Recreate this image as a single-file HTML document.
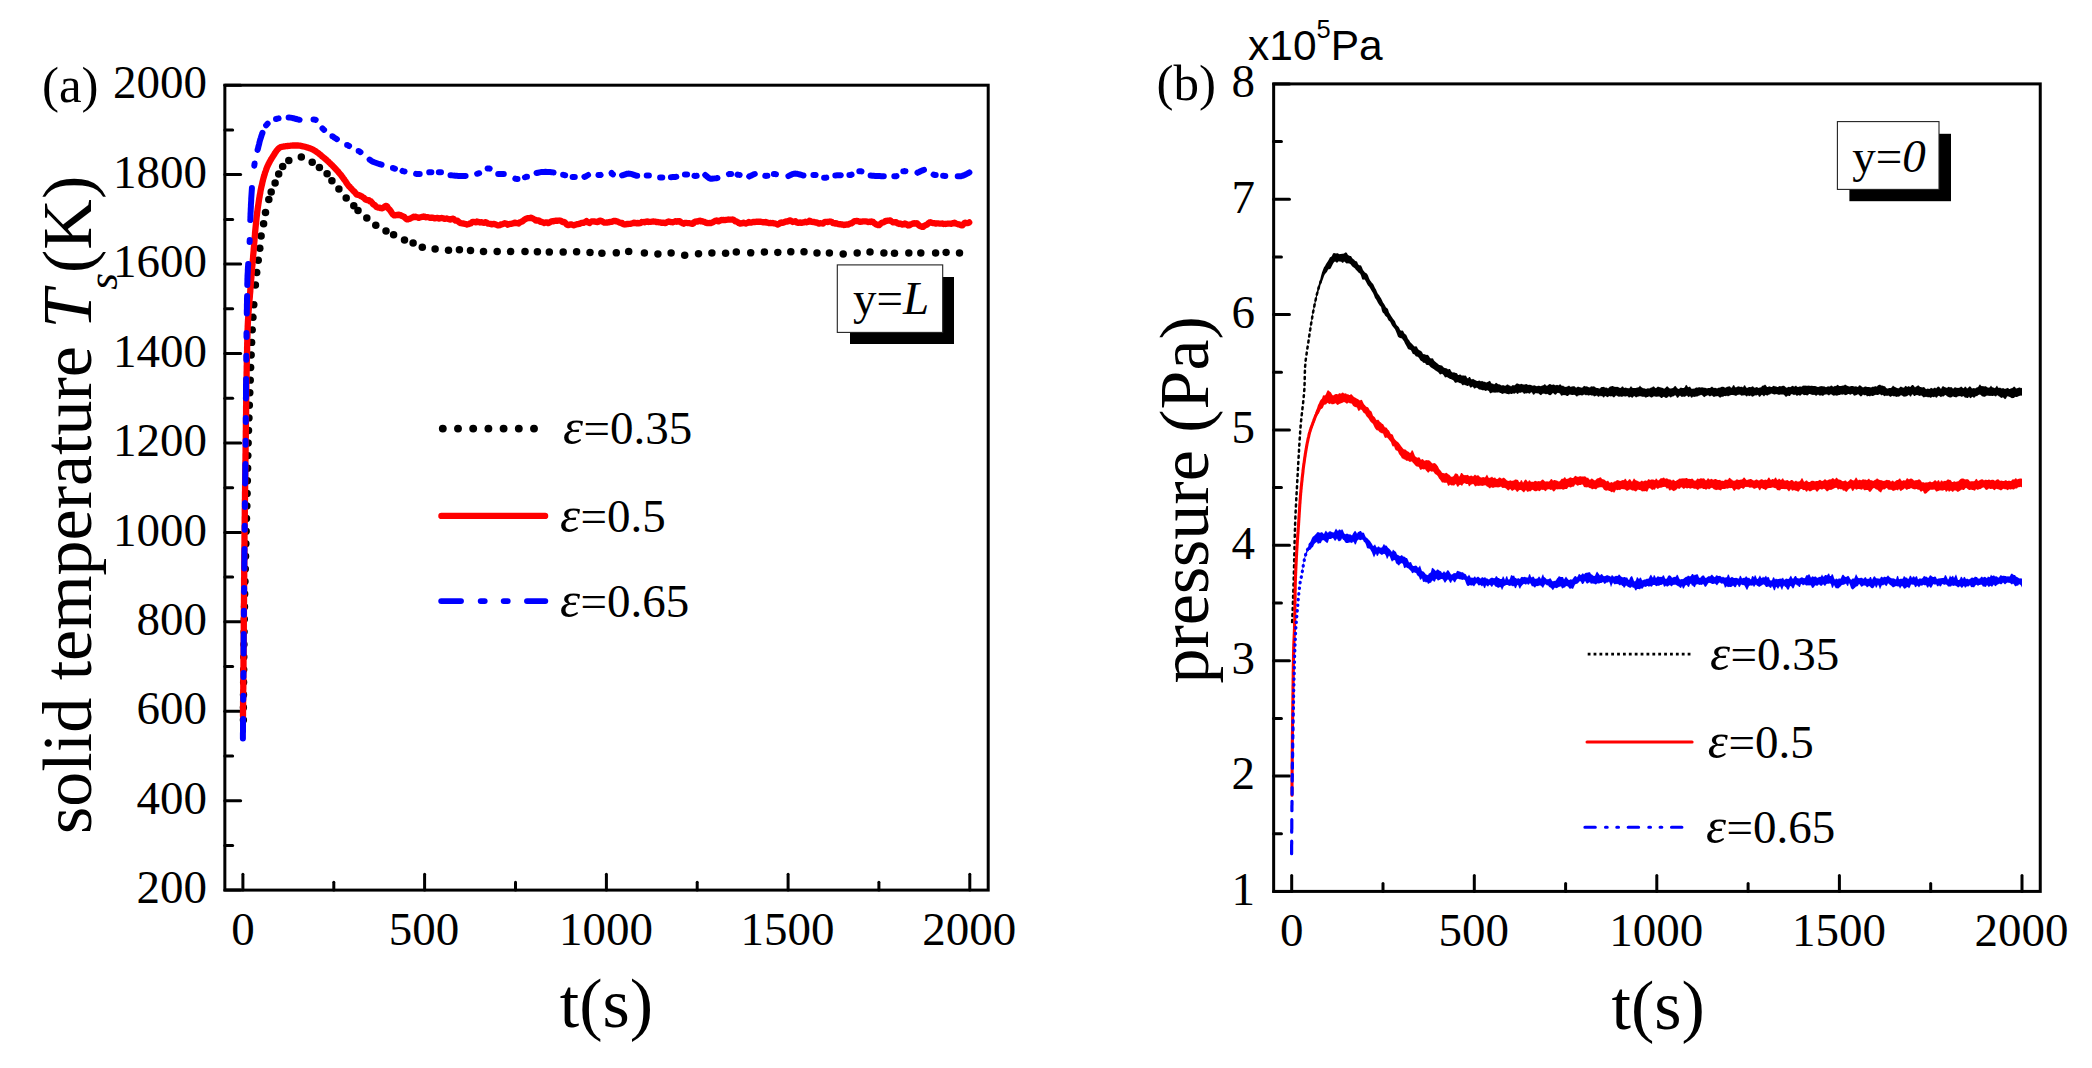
<!DOCTYPE html>
<html><head><meta charset="utf-8"><title>Figure</title>
<style>
html,body{margin:0;padding:0;background:#fff;}
body{width:2092px;height:1068px;overflow:hidden;}
svg{display:block;}
text{font-family:"Liberation Serif","Times New Roman",serif;fill:#000;}
.tk{font-size:47px;}
.big{font-size:70px;}
.it{font-style:italic;}
.sans{font-family:"Liberation Sans",Arial,sans-serif;}
.ax line{stroke:#000;stroke-width:3;stroke-linecap:round;}
.ax rect{fill:none;stroke:#000;stroke-width:3;}
.crv{fill:none;stroke-linejoin:round;}
</style></head>
<body>
<svg width="2092" height="1068" viewBox="0 0 2092 1068">
<rect width="2092" height="1068" fill="#fff"/>

<!-- ===== Panel (a) ===== -->
<g class="ax">
<rect x="224.85" y="85.2" width="763.35" height="804.9"/>
<line x1="224.85" y1="890.1" x2="240.65" y2="890.1"/>
<line x1="224.85" y1="845.4" x2="232.65" y2="845.4"/>
<line x1="224.85" y1="800.7" x2="240.65" y2="800.7"/>
<line x1="224.85" y1="756.0" x2="232.65" y2="756.0"/>
<line x1="224.85" y1="711.2" x2="240.65" y2="711.2"/>
<line x1="224.85" y1="666.5" x2="232.65" y2="666.5"/>
<line x1="224.85" y1="621.8" x2="240.65" y2="621.8"/>
<line x1="224.85" y1="577.1" x2="232.65" y2="577.1"/>
<line x1="224.85" y1="532.4" x2="240.65" y2="532.4"/>
<line x1="224.85" y1="487.7" x2="232.65" y2="487.7"/>
<line x1="224.85" y1="442.9" x2="240.65" y2="442.9"/>
<line x1="224.85" y1="398.2" x2="232.65" y2="398.2"/>
<line x1="224.85" y1="353.5" x2="240.65" y2="353.5"/>
<line x1="224.85" y1="308.8" x2="232.65" y2="308.8"/>
<line x1="224.85" y1="264.1" x2="240.65" y2="264.1"/>
<line x1="224.85" y1="219.4" x2="232.65" y2="219.4"/>
<line x1="224.85" y1="174.6" x2="240.65" y2="174.6"/>
<line x1="224.85" y1="129.9" x2="232.65" y2="129.9"/>
<line x1="224.85" y1="85.2" x2="240.65" y2="85.2"/>
<line x1="242.9" y1="890.1" x2="242.9" y2="874.3000000000001"/>
<line x1="333.8" y1="890.1" x2="333.8" y2="882.3000000000001"/>
<line x1="424.6" y1="890.1" x2="424.6" y2="874.3000000000001"/>
<line x1="515.5" y1="890.1" x2="515.5" y2="882.3000000000001"/>
<line x1="606.4" y1="890.1" x2="606.4" y2="874.3000000000001"/>
<line x1="697.2" y1="890.1" x2="697.2" y2="882.3000000000001"/>
<line x1="788.1" y1="890.1" x2="788.1" y2="874.3000000000001"/>
<line x1="878.9" y1="890.1" x2="878.9" y2="882.3000000000001"/>
<line x1="969.8" y1="890.1" x2="969.8" y2="874.3000000000001"/>
</g>
<g class="tk">
<text x="207" y="903.2" text-anchor="end">200</text>
<text x="207" y="813.8" text-anchor="end">400</text>
<text x="207" y="724.3" text-anchor="end">600</text>
<text x="207" y="634.9" text-anchor="end">800</text>
<text x="207" y="545.5" text-anchor="end">1000</text>
<text x="207" y="456.0" text-anchor="end">1200</text>
<text x="207" y="366.6" text-anchor="end">1400</text>
<text x="207" y="277.2" text-anchor="end">1600</text>
<text x="207" y="187.7" text-anchor="end">1800</text>
<text x="207" y="98.3" text-anchor="end">2000</text>
<text x="242.9" y="944.9" text-anchor="middle">0</text>
<text x="424.1" y="944.9" text-anchor="middle">500</text>
<text x="605.9" y="944.9" text-anchor="middle">1000</text>
<text x="787.6" y="944.9" text-anchor="middle">1500</text>
<text x="969.3" y="944.9" text-anchor="middle">2000</text>
<text x="42" y="102.3" font-size="51">(a)</text>
</g>
<text class="big" x="606.5" y="1026.8" text-anchor="middle">t(s)</text>
<text class="big" transform="translate(90.5,834) rotate(-90)">solid temperature <tspan class="it">T</tspan><tspan class="it" font-size="43" dy="26">s</tspan><tspan dy="-26" dx="0">(K)</tspan></text>

<polyline class="crv" points="243.4,720.0 243.4,719.0 243.4,718.0 243.4,717.0 243.4,716.0 243.4,715.0 243.4,714.0 243.4,713.0 243.4,712.0 243.4,711.0 243.4,710.0 243.4,709.0 243.4,708.0 243.4,707.0 243.5,706.0 243.5,705.0 243.5,704.0 243.5,703.0 243.5,702.0 243.5,701.0 243.5,700.0 243.5,699.0 243.5,698.0 243.5,697.0 243.5,696.0 243.5,695.0 243.5,694.0 243.5,693.0 243.5,692.0 243.5,691.0 243.5,690.0 243.6,689.0 243.6,688.0 243.6,687.0 243.6,686.0 243.6,685.0 243.6,684.0 243.6,683.0 243.6,682.0 243.6,681.0 243.6,680.0 243.6,679.0 243.6,678.0 243.6,677.0 243.7,676.0 243.7,675.0 243.7,674.0 243.7,673.0 243.7,672.0 243.7,671.0 243.7,670.0 243.7,669.0 243.7,668.0 243.7,667.0 243.7,666.0 243.8,665.0 243.8,664.0 243.8,663.0 243.8,662.0 243.8,661.0 243.8,660.0 243.8,659.0 243.8,658.0 243.8,657.0 243.8,656.0 243.8,655.0 243.9,654.0 243.9,653.0 243.9,652.0 243.9,651.0 243.9,650.0 243.9,649.0 243.9,648.0 243.9,647.0 243.9,646.0 243.9,645.0 244.0,644.0 244.0,643.0 244.0,642.0 244.0,641.0 244.0,640.0 244.0,639.0 244.0,638.0 244.0,637.0 244.0,636.0 244.1,635.0 244.1,634.0 244.1,633.0 244.1,632.0 244.1,631.0 244.1,630.0 244.1,629.0 244.1,628.0 244.2,627.0 244.2,626.0 244.2,625.0 244.2,624.0 244.2,623.0 244.2,622.0 244.2,621.0 244.3,620.0 244.3,619.0 244.3,618.0 244.3,617.0 244.3,616.0 244.3,615.0 244.4,614.0 244.4,613.0 244.4,612.0 244.4,611.0 244.4,610.0 244.4,609.0 244.5,608.0 244.5,607.0 244.5,606.0 244.5,605.0 244.5,604.0 244.5,603.0 244.6,602.0 244.6,601.0 244.6,600.0 244.6,599.0 244.6,598.0 244.7,597.0 244.7,596.0 244.7,595.0 244.7,594.0 244.7,593.0 244.8,592.0 244.8,591.0 244.8,590.0 244.8,589.0 244.8,588.0 244.9,587.0 244.9,586.0 244.9,585.0 244.9,584.0 244.9,583.0 245.0,582.0 245.0,581.0 245.0,580.0 245.0,579.0 245.1,578.0 245.1,577.0 245.1,576.0 245.1,575.0 245.2,574.0 245.2,573.0 245.2,572.0 245.2,571.0 245.3,570.0 245.3,569.0 245.3,568.0 245.3,567.0 245.4,566.0 245.4,565.0 245.4,564.0 245.4,563.0 245.5,562.0 245.5,561.0 245.5,560.0 245.5,559.0 245.6,558.0 245.6,557.0 245.6,556.0 245.6,555.0 245.7,554.0 245.7,553.0 245.7,552.0 245.7,551.0 245.8,550.0 245.8,549.0 245.8,548.0 245.8,547.0 245.9,546.0 245.9,545.0 245.9,544.0 245.9,543.0 246.0,542.0 246.0,541.0 246.0,540.0 246.0,539.0 246.0,538.0 246.1,537.0 246.1,536.0 246.1,535.0 246.1,534.0 246.2,533.0 246.2,532.0 246.2,531.0 246.2,530.0 246.3,529.0 246.3,528.0 246.3,527.0 246.3,526.0 246.4,525.0 246.4,524.0 246.4,523.0 246.5,522.0 246.5,521.0 246.5,520.0 246.5,519.0 246.6,518.0 246.6,517.0 246.6,516.0 246.6,515.0 246.7,514.0 246.7,513.0 246.7,512.0 246.7,511.0 246.8,510.0 246.8,509.0 246.8,508.0 246.8,507.0 246.9,506.0 246.9,505.0 246.9,504.0 246.9,503.0 247.0,502.0 247.0,501.0 247.0,500.0 247.0,499.0 247.0,498.0 247.1,497.0 247.1,496.0 247.1,495.0 247.1,494.0 247.2,493.0 247.2,492.0 247.2,491.0 247.2,490.0 247.2,489.0 247.3,488.0 247.3,487.0 247.3,486.0 247.3,485.0 247.3,484.0 247.4,483.0 247.4,482.0 247.4,481.0 247.4,480.0 247.4,479.0 247.5,478.0 247.5,477.0 247.5,476.0 247.5,475.0 247.5,474.0 247.6,473.0 247.6,472.0 247.6,471.0 247.6,470.0 247.6,469.0 247.7,468.0 247.7,467.0 247.7,466.0 247.7,465.0 247.7,464.0 247.8,463.0 247.8,462.0 247.8,461.0 247.8,460.0 247.9,459.0 247.9,458.0 247.9,457.0 247.9,456.0 247.9,455.0 248.0,454.0 248.0,453.0 248.0,452.0 248.0,451.0 248.1,450.0 248.1,449.0 248.1,448.0 248.1,447.0 248.1,446.0 248.2,445.0 248.2,444.0 248.2,443.0 248.2,442.0 248.3,441.0 248.3,440.0 248.3,439.1 248.4,438.1 248.4,437.1 248.4,436.1 248.4,435.1 248.5,434.1 248.5,433.1 248.5,432.1 248.5,431.1 248.6,430.1 248.6,429.1 248.6,428.1 248.7,427.1 248.7,426.1 248.7,425.1 248.8,424.1 248.8,423.1 248.8,422.1 248.9,421.1 248.9,420.1 248.9,419.1 249.0,418.1 249.0,417.1 249.0,416.1 249.1,415.1 249.1,414.1 249.1,413.1 249.2,412.1 249.2,411.1 249.2,410.1 249.3,409.1 249.3,408.1 249.3,407.1 249.4,406.1 249.4,405.1 249.4,404.1 249.5,403.1 249.5,402.1 249.5,401.1 249.6,400.1 249.6,399.1 249.6,398.1 249.7,397.1 249.7,396.1 249.7,395.1 249.8,394.1 249.8,393.1 249.9,392.1 249.9,391.1 249.9,390.1 250.0,389.1 250.0,388.1 250.0,387.1 250.1,386.1 250.1,385.1 250.1,384.1 250.2,383.1 250.2,382.1 250.2,381.1 250.3,380.1 250.3,379.1 250.4,378.1 250.4,377.1 250.4,376.1 250.5,375.1 250.5,374.1 250.5,373.1 250.6,372.1 250.6,371.1 250.6,370.1 250.7,369.1 250.7,368.1 250.7,367.1 250.8,366.1 250.8,365.1 250.9,364.1 250.9,363.1 250.9,362.1 251.0,361.1 251.0,360.1 251.0,359.1 251.1,358.1 251.1,357.1 251.2,356.1 251.2,355.1 251.2,354.1 251.3,353.1 251.3,352.1 251.3,351.1 251.4,350.1 251.4,349.1 251.5,348.1 251.5,347.1 251.6,346.1 251.6,345.1 251.6,344.1 251.7,343.1 251.7,342.1 251.8,341.1 251.8,340.1 251.9,339.1 251.9,338.1 252.0,337.1 252.0,336.1 252.0,335.1 252.1,334.1 252.1,333.1 252.2,332.1 252.2,331.1 252.3,330.1 252.3,329.1 252.4,328.1 252.4,327.1 252.5,326.1 252.6,325.1 252.6,324.1 252.7,323.1 252.7,322.1 252.8,321.1 252.8,320.1 252.9,319.1 253.0,318.1 253.0,317.1 253.1,316.1 253.1,315.1 253.2,314.1 253.3,313.1 253.3,312.2 253.4,311.2 253.5,310.2 253.5,309.2 253.6,308.2 253.7,307.2 253.7,306.2 253.8,305.2 253.9,304.2 253.9,303.2 254.0,302.2 254.1,301.2 254.2,300.2 254.2,299.2 254.3,298.2 254.4,297.2 254.5,296.2 254.5,295.2 254.6,294.2 254.7,293.2 254.8,292.2" stroke="#000" stroke-width="7.4" stroke-linecap="round" stroke-dasharray="0 12.6"/>
<g fill="#000">
<circle cx="255.4" cy="285.0" r="3.75"/>
<circle cx="256.7" cy="272.6" r="3.75"/>
<circle cx="258.2" cy="260.2" r="3.75"/>
<circle cx="259.8" cy="248.3" r="3.75"/>
<circle cx="261.1" cy="235.9" r="3.75"/>
<circle cx="263.6" cy="223.8" r="3.75"/>
<circle cx="265.5" cy="212.4" r="3.75"/>
<circle cx="268.8" cy="199.6" r="3.75"/>
<circle cx="271.2" cy="191.9" r="3.75"/>
<circle cx="275.1" cy="183.1" r="3.75"/>
<circle cx="278.7" cy="174.1" r="3.75"/>
<circle cx="282.7" cy="166.5" r="3.75"/>
<circle cx="288.8" cy="160.4" r="3.75"/>
<circle cx="301.3" cy="156.9" r="3.75"/>
<circle cx="312.2" cy="162.3" r="3.75"/>
<circle cx="319.4" cy="167.4" r="3.75"/>
<circle cx="327.1" cy="173.7" r="3.75"/>
<circle cx="331.9" cy="180.8" r="3.75"/>
<circle cx="338.9" cy="189.0" r="3.75"/>
<circle cx="346.2" cy="198.0" r="3.75"/>
<circle cx="353.8" cy="205.7" r="3.75"/>
<circle cx="358.0" cy="210.5" r="3.75"/>
<circle cx="366.8" cy="218.1" r="3.75"/>
<circle cx="375.8" cy="225.2" r="3.75"/>
<circle cx="386.0" cy="230.9" r="3.75"/>
<circle cx="393.6" cy="234.7" r="3.75"/>
<circle cx="404.5" cy="240.1" r="3.75"/>
<circle cx="413.1" cy="243.0" r="3.75"/>
<circle cx="422.3" cy="247.2" r="3.75"/>
<circle cx="435.1" cy="249.1" r="3.75"/>
<circle cx="448.5" cy="250.2" r="3.75"/>
<circle cx="459.4" cy="249.7" r="3.75"/>
<circle cx="470.5" cy="250.6" r="3.75"/>
<circle cx="483.5" cy="251.6" r="3.75"/>
<circle cx="497.2" cy="251.6" r="3.75"/>
<circle cx="510.6" cy="251.6" r="3.75"/>
<circle cx="525.0" cy="251.6" r="3.75"/>
<circle cx="537.4" cy="251.8" r="3.75"/>
<circle cx="549.3" cy="252.1" r="3.75"/>
<circle cx="563.2" cy="252.1" r="3.75"/>
<circle cx="576.6" cy="251.8" r="3.75"/>
<circle cx="590.0" cy="252.5" r="3.75"/>
<circle cx="601.9" cy="253.3" r="3.75"/>
<circle cx="616.3" cy="252.8" r="3.75"/>
<circle cx="628.7" cy="251.4" r="3.75"/>
<circle cx="644.4" cy="252.9" r="3.75"/>
<circle cx="657.9" cy="253.9" r="3.75"/>
<circle cx="671.1" cy="252.9" r="3.75"/>
<circle cx="684.7" cy="255.2" r="3.75"/>
<circle cx="698.5" cy="253.7" r="3.75"/>
<circle cx="711.9" cy="252.9" r="3.75"/>
<circle cx="725.6" cy="253.3" r="3.75"/>
<circle cx="736.3" cy="252.0" r="3.75"/>
<circle cx="750.7" cy="252.8" r="3.75"/>
<circle cx="764.4" cy="252.0" r="3.75"/>
<circle cx="777.8" cy="252.4" r="3.75"/>
<circle cx="790.8" cy="251.8" r="3.75"/>
<circle cx="804.0" cy="251.8" r="3.75"/>
<circle cx="817.0" cy="252.9" r="3.75"/>
<circle cx="829.4" cy="252.9" r="3.75"/>
<circle cx="843.2" cy="253.9" r="3.75"/>
<circle cx="857.2" cy="252.9" r="3.75"/>
<circle cx="870.0" cy="252.0" r="3.75"/>
<circle cx="883.9" cy="252.9" r="3.75"/>
<circle cx="894.5" cy="253.3" r="3.75"/>
<circle cx="908.8" cy="252.9" r="3.75"/>
<circle cx="920.8" cy="252.9" r="3.75"/>
<circle cx="935.6" cy="252.9" r="3.75"/>
<circle cx="946.1" cy="252.4" r="3.75"/>
<circle cx="959.5" cy="252.9" r="3.75"/>
</g>
<polyline class="crv" points="243.0,716.0 243.0,715.0 243.0,714.0 243.0,713.0 243.0,712.0 243.0,711.0 243.1,710.0 243.1,709.0 243.1,708.0 243.1,707.0 243.1,706.0 243.1,705.0 243.1,704.0 243.1,703.0 243.1,702.0 243.1,701.0 243.2,700.0 243.2,699.0 243.2,698.0 243.2,697.0 243.2,696.0 243.2,695.0 243.2,694.0 243.2,693.0 243.2,692.0 243.2,691.0 243.2,690.0 243.3,689.0 243.3,688.0 243.3,687.0 243.3,686.0 243.3,685.0 243.3,684.0 243.3,683.0 243.3,682.0 243.3,681.0 243.3,680.0 243.3,679.0 243.4,678.0 243.4,677.0 243.4,676.0 243.4,675.0 243.4,674.0 243.4,673.0 243.4,672.0 243.4,671.0 243.4,670.0 243.4,669.0 243.4,668.0 243.5,667.0 243.5,666.0 243.5,665.0 243.5,664.0 243.5,663.0 243.5,662.0 243.5,661.0 243.5,660.0 243.5,659.0 243.5,658.0 243.5,657.0 243.5,656.0 243.6,655.0 243.6,654.0 243.6,653.0 243.6,652.0 243.6,651.0 243.6,650.0 243.6,649.0 243.6,648.0 243.6,647.0 243.6,646.0 243.6,645.0 243.6,644.0 243.7,643.0 243.7,642.0 243.7,641.0 243.7,640.0 243.7,639.0 243.7,638.0 243.7,637.0 243.7,636.0 243.7,635.0 243.7,634.0 243.7,633.0 243.7,632.0 243.8,631.0 243.8,630.0 243.8,629.0 243.8,628.0 243.8,627.0 243.8,626.0 243.8,625.0 243.8,624.0 243.8,623.0 243.8,622.0 243.8,621.0 243.8,620.0 243.8,619.0 243.8,618.0 243.9,617.0 243.9,616.0 243.9,615.0 243.9,614.0 243.9,613.0 243.9,612.0 243.9,611.0 243.9,610.0 243.9,609.0 243.9,608.0 243.9,607.0 243.9,606.0 243.9,605.0 243.9,604.0 244.0,603.0 244.0,602.0 244.0,601.0 244.0,600.0 244.0,599.0 244.0,598.0 244.0,597.0 244.0,596.0 244.0,595.0 244.0,594.0 244.0,593.0 244.0,592.0 244.0,591.0 244.1,590.0 244.1,589.0 244.1,588.0 244.1,587.0 244.1,586.0 244.1,585.0 244.1,584.0 244.1,583.0 244.1,582.0 244.1,581.0 244.1,580.0 244.1,579.0 244.1,578.0 244.2,577.0 244.2,576.0 244.2,575.0 244.2,574.0 244.2,573.0 244.2,572.0 244.2,571.0 244.2,570.0 244.2,569.0 244.2,568.0 244.2,567.0 244.2,566.0 244.3,565.0 244.3,564.0 244.3,563.0 244.3,562.0 244.3,561.0 244.3,560.0 244.3,559.0 244.3,558.0 244.3,557.0 244.3,556.0 244.3,555.0 244.4,554.0 244.4,553.0 244.4,552.0 244.4,551.0 244.4,550.0 244.4,549.0 244.4,548.0 244.4,547.0 244.4,546.0 244.4,545.0 244.5,544.0 244.5,543.0 244.5,542.0 244.5,541.0 244.5,540.0 244.5,539.0 244.5,538.0 244.5,537.0 244.5,536.0 244.5,535.0 244.6,534.0 244.6,533.0 244.6,532.0 244.6,531.0 244.6,530.0 244.6,529.0 244.6,528.0 244.6,527.0 244.6,526.0 244.7,525.0 244.7,524.0 244.7,523.0 244.7,522.0 244.7,521.0 244.7,520.0 244.7,519.0 244.7,518.0 244.7,517.0 244.8,516.0 244.8,515.0 244.8,514.0 244.8,513.0 244.8,512.0 244.8,511.0 244.8,510.0 244.8,509.0 244.9,508.0 244.9,507.0 244.9,506.0 244.9,505.0 244.9,504.0 244.9,503.0 244.9,502.0 244.9,501.0 244.9,500.0 245.0,499.0 245.0,498.0 245.0,497.0 245.0,496.0 245.0,495.0 245.0,494.0 245.0,493.0 245.0,492.0 245.1,491.0 245.1,490.0 245.1,489.0 245.1,488.0 245.1,487.0 245.1,486.0 245.1,485.0 245.1,484.0 245.2,483.0 245.2,482.0 245.2,481.0 245.2,480.0 245.2,479.0 245.2,478.0 245.2,477.0 245.3,476.0 245.3,475.0 245.3,474.0 245.3,473.0 245.3,472.0 245.3,471.0 245.3,470.0 245.3,469.0 245.4,468.0 245.4,467.0 245.4,466.0 245.4,465.0 245.4,464.0 245.4,463.0 245.4,462.0 245.4,461.0 245.5,460.0 245.5,459.0 245.5,458.0 245.5,457.0 245.5,456.0 245.5,455.0 245.5,454.0 245.6,453.0 245.6,452.0 245.6,451.0 245.6,450.0 245.6,449.0 245.6,448.0 245.6,447.0 245.7,446.0 245.7,445.0 245.7,444.0 245.7,443.0 245.7,442.0 245.7,441.0 245.7,440.0 245.7,439.0 245.8,438.0 245.8,437.0 245.8,436.0 245.8,435.0 245.8,434.0 245.8,433.0 245.8,432.0 245.8,431.0 245.9,430.0 245.9,429.0 245.9,428.0 245.9,427.0 245.9,426.0 245.9,425.0 245.9,424.0 245.9,423.0 246.0,422.0 246.0,421.0 246.0,420.0 246.0,419.0 246.0,418.0 246.0,417.0 246.0,416.0 246.0,415.0 246.1,414.0 246.1,413.0 246.1,412.0 246.1,411.0 246.1,410.0 246.1,409.0 246.1,408.0 246.1,407.0 246.1,406.0 246.2,405.0 246.2,404.0 246.2,403.0 246.2,402.0 246.2,401.0 246.2,400.0 246.2,399.0 246.3,398.0 246.3,397.0 246.3,396.0 246.3,395.0 246.3,394.0 246.3,393.0 246.3,392.0 246.3,391.0 246.4,390.0 246.4,389.0 246.4,388.0 246.4,387.0 246.4,386.0 246.4,385.0 246.4,384.0 246.5,383.0 246.5,382.0 246.5,381.0 246.5,380.0 246.5,379.0 246.5,378.0 246.6,377.0 246.6,376.0 246.6,375.0 246.6,374.0 246.6,373.0 246.6,372.0 246.7,371.0 246.7,370.0 246.7,369.0 246.7,368.0 246.7,367.0 246.7,366.0 246.8,365.0 246.8,364.0 246.8,363.0 246.8,362.0 246.8,361.0 246.9,360.0 246.9,359.0 246.9,358.0 246.9,357.0 246.9,356.0 247.0,355.0 247.0,354.0 247.0,353.0 247.0,352.0 247.1,351.0 247.1,350.0 247.1,349.0 247.1,348.0 247.1,347.0 247.2,346.0 247.2,345.0 247.2,344.0 247.2,343.0 247.3,342.0 247.3,341.0 247.3,340.0 247.3,339.0 247.4,338.0 247.4,337.0 247.4,336.0 247.5,335.0 247.5,334.0 247.5,333.0 247.5,332.0 247.6,331.0 247.6,330.0 247.6,329.0 247.7,328.0 247.7,327.0 247.7,326.0 247.8,325.0 247.8,324.0 247.9,323.0 247.9,322.0 248.0,321.0 248.0,320.0 248.1,319.0 248.2,318.1 248.2,317.1 248.3,316.1 248.4,315.1 248.4,314.1 248.5,313.1 248.6,312.1 248.6,311.1 248.7,310.1 248.8,309.1 248.9,308.1 249.0,307.1 249.0,306.1 249.1,305.1 249.2,304.1 249.3,303.1 249.4,302.1 249.4,301.1 249.5,300.1 249.6,299.1 249.7,298.1 249.8,297.1 249.9,296.1 249.9,295.1 250.0,294.1 250.1,293.1 250.2,292.1 250.3,291.1 250.3,290.1 250.4,289.1 250.5,288.1 250.6,287.1 250.7,286.1 250.7,285.1 250.8,284.1 250.9,283.1 251.0,282.1 251.0,281.2 251.1,280.2 251.2,279.2 251.3,278.2 251.4,277.2 251.4,276.2 251.5,275.2 251.6,274.2 251.7,273.2 251.8,272.2 251.9,271.2 251.9,270.2 252.0,269.2 252.1,268.2 252.2,267.2 252.3,266.2 252.4,265.2 252.5,264.2 252.5,263.2 252.6,262.2 252.7,261.2 252.8,260.2 252.9,259.2 253.0,258.2 253.1,257.2 253.1,256.2 253.2,255.2 253.3,254.2 253.4,253.3 253.5,252.3 253.6,251.3 253.7,250.3 253.7,249.3 253.8,248.3 253.9,247.3 254.0,246.3 254.1,245.3 254.1,244.3 254.2,243.3 254.3,242.3 254.4,241.3 254.5,240.3 254.5,239.3 254.6,238.3 254.7,237.3 254.8,236.3 254.9,235.3 255.0,234.3 255.0,233.3 255.1,232.3 255.2,231.3 255.3,230.3 255.4,229.3 255.5,228.3 255.6,227.3 255.7,226.3 255.8,225.3 255.9,224.4 256.0,223.4 256.1,222.4 256.2,221.4 256.3,220.4 256.4,219.4 256.5,218.4 256.6,217.4 256.7,216.4 256.9,215.4 257.0,214.4 257.1,213.4 257.2,212.4 257.3,211.4 257.5,210.4 257.6,209.4 257.7,208.5 257.9,207.5 258.0,206.5 258.2,205.5 258.3,204.5 258.5,203.5 258.6,202.5 258.8,201.5 258.9,200.5 259.1,199.5 259.2,198.6 259.4,197.6 259.6,196.6 259.7,195.6 259.9,194.6 260.1,193.6 260.3,192.7 260.4,191.7 260.6,190.7 260.8,189.7 261.0,188.7 261.2,187.7 261.4,186.8 261.6,185.8 261.9,184.8 262.1,183.8 262.3,182.8 262.5,181.8 262.8,180.9 263.0,179.9 263.3,178.9 263.5,178.0 263.8,177.0 264.1,176.0 264.4,175.1 264.7,174.1 264.9,173.2 265.2,172.2 265.6,171.3 265.9,170.4 266.2,169.4 266.6,168.5 266.9,167.6 267.3,166.6 267.7,165.7 268.2,164.8 268.6,163.9 269.1,163.0 269.5,162.1 270.0,161.2 270.5,160.3 271.0,159.5 271.5,158.6 272.0,157.8 272.6,156.9 273.1,156.1 273.7,155.2 274.3,154.3 274.8,153.3 275.5,152.4 276.1,151.4 276.7,150.5 277.4,149.7 278.1,149.0 278.8,148.3 279.5,147.7 280.3,147.3 281.1,147.0 281.9,146.8 282.7,146.7 283.6,146.5 284.6,146.4 285.5,146.2 286.5,146.1 287.6,146.0 288.6,145.9 289.7,145.8 290.7,145.7 291.8,145.6 292.8,145.5 293.9,145.5 294.9,145.5 295.9,145.5 296.9,145.5 297.9,145.5 298.9,145.6 299.9,145.7 300.9,145.9 301.9,146.1 302.9,146.3 303.9,146.5 304.9,146.8 305.9,147.1 306.9,147.4 307.8,147.6 308.8,147.9 309.7,148.3 310.6,148.6 311.4,148.9 312.3,149.3 313.2,149.8 314.1,150.3 314.9,150.8 315.8,151.3 316.6,151.9 317.4,152.5 318.2,153.1 319.1,153.8 319.9,154.4 320.7,155.1 321.5,155.7 322.2,156.4 323.0,157.0 323.8,157.7 324.6,158.3 325.3,159.0 326.1,159.6 326.8,160.3 327.6,160.9 328.3,161.6 329.0,162.3 329.8,163.0 330.5,163.7 331.2,164.4 331.9,165.1 332.6,165.8 333.3,166.6 334.0,167.3 334.7,168.0 335.4,168.6 336.0,169.4 336.7,170.1 337.4,170.9 338.1,171.6 338.7,172.5 339.4,173.2 340.0,174.1 340.7,174.7 341.3,175.5 341.9,176.3 342.5,177.2 343.1,178.0 343.7,179.0 344.3,179.5 344.9,180.5 345.5,181.2 346.1,182.4 346.7,183.1 347.3,184.1 347.9,184.9 348.5,185.7 349.1,186.4 349.8,186.9 350.4,187.8 351.0,188.3 351.7,189.0 352.3,189.7 353.0,190.5 353.7,191.2 354.4,191.6 355.1,192.6 355.8,193.4 356.6,194.6 357.4,194.7 358.2,194.9 359.1,195.1 359.9,195.4 360.8,196.2 361.7,196.4 362.6,197.2 363.5,197.6 364.4,198.3 365.3,199.3 366.2,199.9 367.1,200.0 368.0,200.3 368.9,200.2 369.7,201.2 370.6,201.1 371.4,201.9 372.2,203.0 373.0,204.0 373.8,204.8 374.6,204.9 375.4,205.7 376.3,206.9 377.1,207.3 377.9,207.5 378.8,207.6 379.6,207.7 380.5,208.1 381.5,208.1 382.4,208.3 383.4,207.8 384.4,206.8 385.4,206.1 386.2,205.9 387.0,206.3 387.7,207.4 388.4,208.5 389.1,209.2 389.7,209.6 390.3,210.6 390.9,211.3 391.5,212.5 392.1,213.2 392.8,214.3 393.4,214.8 394.2,215.4 394.9,215.4 395.8,215.4 396.8,214.8 397.8,215.1 398.9,214.7 399.8,215.1 400.8,215.2 401.7,215.9 402.6,216.1 403.4,216.6 404.3,217.0 405.2,218.1 406.1,218.8 407.0,219.4 407.9,219.3 408.9,218.9 409.8,218.8 410.8,218.2 411.8,217.7 412.8,217.5 413.7,216.7 414.7,217.1 415.7,216.6 416.7,217.2 417.7,217.4 418.7,217.9 419.7,217.6 420.7,217.2 421.7,216.9 422.7,216.8 423.7,216.5 424.7,216.7 425.7,217.3 426.7,217.2 427.7,217.2 428.7,217.3 429.7,217.9 430.7,217.7 431.7,217.9 432.7,217.6 433.7,218.1 434.7,218.4 435.7,218.2 436.7,218.1 437.7,217.8 438.7,218.6 439.7,218.4 440.7,218.2 441.7,217.8 442.7,218.2 443.7,218.6 444.7,218.9 445.7,218.7 446.7,218.4 447.7,218.8 448.7,219.2 449.7,219.4 450.6,219.6 451.6,219.3 452.6,218.6 453.6,218.9 454.6,220.0 455.5,220.6 456.5,220.6 457.4,220.6 458.4,221.7 459.4,222.4 460.3,223.1 461.3,223.2 462.2,223.4 463.2,223.5 464.1,223.6 465.1,224.0 466.1,224.2 467.1,224.6 468.0,224.1 469.0,224.1 470.0,223.3 471.0,223.4 472.0,222.1 473.0,221.9 474.0,221.8 475.0,222.2 476.0,222.4 477.0,221.5 477.9,222.0 478.9,222.0 479.9,222.5 480.9,222.2 481.9,222.2 482.9,222.7 483.9,222.8 484.9,222.4 485.8,222.1 486.8,222.7 487.8,223.6 488.8,223.7 489.8,223.8 490.8,223.9 491.8,224.4 492.7,224.0 493.7,223.8 494.7,224.0 495.7,224.5 496.7,224.9 497.7,225.3 498.7,225.3 499.7,225.2 500.7,224.4 501.7,224.3 502.7,224.1 503.7,223.8 504.7,223.2 505.7,223.5 506.7,223.8 507.7,224.7 508.7,224.2 509.7,224.1 510.7,223.8 511.7,223.9 512.7,223.3 513.7,223.3 514.6,222.6 515.6,222.9 516.6,223.1 517.6,223.2 518.6,223.5 519.5,222.4 520.5,222.4 521.5,221.6 522.4,221.4 523.3,220.6 524.3,219.8 525.2,219.3 526.1,218.7 527.1,218.3 528.0,218.1 529.0,218.2 529.9,218.1 530.9,217.7 531.8,218.1 532.8,218.4 533.7,219.1 534.7,219.4 535.6,220.4 536.6,220.6 537.5,220.5 538.5,220.4 539.5,220.9 540.4,221.9 541.4,221.7 542.4,222.3 543.3,222.5 544.3,223.1 545.3,222.3 546.3,222.4 547.3,222.3 548.2,223.1 549.2,222.6 550.2,222.1 551.2,221.5 552.2,221.1 553.2,221.4 554.2,220.9 555.2,220.9 556.2,220.6 557.2,220.8 558.2,220.7 559.1,220.5 560.1,220.7 561.0,220.9 562.0,221.6 562.9,222.0 563.9,221.9 564.8,222.3 565.7,223.3 566.7,224.5 567.6,225.0 568.6,225.0 569.5,224.9 570.5,224.3 571.5,224.4 572.5,224.8 573.4,225.3 574.4,225.1 575.4,224.7 576.4,224.4 577.4,224.2 578.4,224.0 579.4,223.9 580.4,223.4 581.4,223.0 582.4,222.9 583.4,222.9 584.4,222.2 585.4,221.9 586.4,221.1 587.4,222.3 588.4,222.3 589.4,223.1 590.4,222.2 591.4,221.6 592.4,221.3 593.4,221.4 594.3,221.5 595.3,221.6 596.3,221.8 597.3,222.2 598.3,221.8 599.3,220.9 600.3,220.7 601.3,220.8 602.3,221.6 603.3,222.0 604.3,222.7 605.3,222.7 606.3,222.5 607.3,222.5 608.3,222.4 609.4,222.1 610.4,221.9 611.4,221.8 612.4,221.6 613.4,221.0 614.4,221.0 615.4,220.9 616.4,221.4 617.3,221.3 618.3,222.0 619.3,222.5 620.2,222.6 621.1,223.0 622.1,223.0 623.0,224.2 623.9,224.3 624.9,224.5 625.9,224.3 626.8,224.0 627.8,224.0 628.8,223.9 629.8,223.9 630.8,223.8 631.8,223.3 632.7,223.3 633.7,222.7 634.7,223.1 635.7,222.9 636.7,223.3 637.7,222.8 638.8,223.4 639.8,223.0 640.8,223.1 641.8,221.9 642.8,222.2 643.8,222.0 644.8,222.4 645.8,221.6 646.8,221.8 647.8,221.4 648.8,222.0 649.8,221.8 650.8,221.8 651.8,221.7 652.8,221.5 653.8,221.5 654.8,221.7 655.8,221.6 656.8,222.2 657.8,222.0 658.8,222.3 659.8,222.3 660.8,222.6 661.8,222.8 662.8,222.6 663.7,222.7 664.7,223.0 665.7,223.0 666.7,222.4 667.7,221.8 668.7,221.5 669.7,221.8 670.7,222.1 671.7,222.2 672.7,222.3 673.7,221.9 674.7,221.6 675.7,221.1 676.7,221.7 677.7,221.2 678.7,221.5 679.7,221.2 680.7,222.0 681.6,222.8 682.6,223.3 683.6,223.7 684.6,222.9 685.6,222.9 686.6,222.8 687.6,223.2 688.6,223.2 689.6,223.2 690.5,223.4 691.5,223.6 692.5,223.8 693.5,223.4 694.4,221.9 695.4,221.6 696.4,221.5 697.3,221.7 698.3,221.0 699.2,220.8 700.2,220.7 701.1,221.3 702.1,221.2 703.0,221.6 704.0,221.8 704.9,222.1 705.9,222.7 706.8,223.0 707.8,223.0 708.8,223.2 709.7,222.8 710.7,223.2 711.7,222.7 712.7,222.5 713.6,221.9 714.6,221.1 715.6,220.7 716.6,220.4 717.6,221.1 718.6,221.3 719.5,220.9 720.5,220.4 721.5,220.0 722.5,220.1 723.5,220.0 724.5,220.1 725.5,220.1 726.5,219.8 727.5,219.7 728.5,219.5 729.5,219.7 730.5,219.6 731.5,219.7 732.5,219.4 733.4,219.7 734.4,220.5 735.3,221.3 736.2,221.4 737.2,221.9 738.1,222.3 739.0,223.2 740.0,223.6 740.9,223.5 741.9,223.3 742.9,222.8 743.8,222.7 744.8,223.3 745.8,223.6 746.8,223.2 747.8,222.6 748.8,222.0 749.8,222.7 750.8,222.5 751.8,222.5 752.8,222.0 753.8,222.0 754.8,222.0 755.8,221.9 756.8,221.7 757.8,221.8 758.8,221.6 759.8,221.8 760.8,221.7 761.8,222.0 762.8,222.3 763.8,222.1 764.8,222.3 765.8,221.9 766.8,222.6 767.8,222.7 768.8,223.1 769.8,223.1 770.8,222.9 771.8,223.2 772.7,223.0 773.7,223.4 774.7,223.3 775.7,223.8 776.7,224.1 777.7,224.5 778.7,224.1 779.7,223.5 780.6,222.6 781.6,222.5 782.6,222.8 783.6,222.7 784.5,222.1 785.5,221.6 786.5,221.4 787.5,221.6 788.5,221.3 789.5,220.5 790.5,220.5 791.5,221.1 792.5,222.0 793.5,221.7 794.4,221.5 795.4,221.1 796.4,222.4 797.4,222.6 798.4,222.9 799.4,222.6 800.4,222.4 801.4,222.9 802.4,222.6 803.4,222.4 804.4,222.3 805.4,221.7 806.4,222.3 807.4,221.9 808.4,221.9 809.4,220.8 810.4,221.1 811.4,221.8 812.3,221.9 813.3,222.0 814.3,221.9 815.3,222.5 816.2,222.4 817.2,222.6 818.2,223.4 819.1,223.6 820.1,223.2 821.1,223.4 822.1,223.4 823.1,223.5 824.1,222.5 825.0,221.8 826.0,221.9 827.0,221.9 828.0,222.1 829.0,221.8 830.0,221.5 831.0,221.7 831.9,222.0 832.9,223.1 833.9,222.9 834.9,223.5 835.9,223.1 836.8,223.5 837.8,223.9 838.8,224.2 839.8,224.4 840.7,224.1 841.7,224.5 842.7,224.5 843.7,225.0 844.6,224.7 845.6,224.8 846.6,224.5 847.5,224.5 848.5,224.5 849.5,223.8 850.4,223.4 851.4,223.4 852.4,222.7 853.4,221.9 854.3,221.2 855.3,221.2 856.3,220.8 857.3,221.1 858.3,221.2 859.3,221.7 860.3,221.9 861.3,221.7 862.3,221.6 863.3,221.3 864.3,221.3 865.3,221.3 866.3,221.5 867.3,221.6 868.3,222.0 869.3,221.7 870.3,222.0 871.2,221.4 872.2,221.9 873.2,222.0 874.2,223.1 875.1,223.7 876.1,224.4 877.1,224.7 878.0,225.1 879.0,225.2 880.0,224.4 880.9,223.4 881.9,222.8 882.8,222.5 883.7,222.2 884.7,221.7 885.6,220.9 886.6,221.1 887.5,220.6 888.5,220.7 889.4,220.5 890.4,220.5 891.3,221.2 892.3,221.7 893.2,222.4 894.2,222.3 895.1,222.2 896.1,222.1 897.1,223.2 898.0,223.5 899.0,224.0 900.0,223.4 901.0,223.7 902.0,224.5 903.0,224.5 904.0,224.3 905.0,223.4 906.0,224.0 907.0,224.3 908.0,225.5 909.0,225.3 910.0,225.1 911.0,224.1 912.0,224.1 912.9,223.4 913.9,223.6 914.9,223.2 915.8,223.5 916.8,223.2 917.7,223.8 918.6,225.1 919.5,225.8 920.4,226.2 921.3,226.6 922.3,226.9 923.2,226.8 924.1,225.8 925.0,225.6 925.9,225.1 926.8,224.8 927.7,224.1 928.7,223.1 929.6,222.4 930.5,222.2 931.5,222.8 932.5,223.1 933.4,223.1 934.4,223.2 935.4,223.5 936.4,223.6 937.4,223.3 938.5,223.3 939.5,223.7 940.5,223.7 941.5,223.6 942.5,223.5 943.5,224.1 944.5,223.8 945.5,224.0 946.5,223.8 947.5,223.7 948.5,223.7 949.5,223.7 950.5,223.6 951.5,223.8 952.5,223.2 953.5,223.3 954.5,222.6 955.5,223.3 956.5,223.8 957.5,224.1 958.5,224.4 959.5,224.5 960.5,225.0 961.5,225.4 962.5,225.4 963.5,224.1 964.4,223.1 965.4,222.6 966.4,223.2 967.4,223.2 968.4,223.0 969.2,222.4" stroke="#f00" stroke-width="6.3" stroke-linecap="round"/>
<path class="crv" d="M242.9 738.4 L242.9 737.9 L242.9 736.4 L242.9 734.9 L242.9 733.4 L243.0 731.9 L243.0 730.4 L243.0 728.9 L243.0 727.4 L243.0 725.9 L243.0 724.4 L243.0 722.9 L243.1 721.4 L243.1 719.9 L243.1 718.9 M243.2 699.7 L243.2 699.4 L243.3 697.9 L243.3 696.4 L243.3 695.7 M243.4 676.9 L243.4 676.9 L243.4 675.4 L243.4 673.9 L243.5 672.9 M243.6 653.4 L243.6 653.4 L243.6 651.9 L243.6 650.4 L243.6 648.9 L243.6 647.4 L243.7 645.9 L243.7 644.4 L243.7 642.9 L243.7 641.4 L243.7 639.9 L243.7 638.4 L243.7 636.9 L243.7 635.4 L243.7 633.9 M243.9 614.7 L243.9 614.4 L243.9 612.9 L243.9 611.4 L243.9 610.7 M244.1 591.9 L244.1 591.4 L244.1 589.9 L244.1 588.4 L244.1 587.9 M244.3 568.4 L244.3 567.9 L244.3 566.4 L244.3 564.9 L244.3 563.4 L244.3 561.9 L244.4 560.4 L244.4 558.9 L244.4 557.4 L244.4 555.9 L244.4 554.4 L244.4 552.9 L244.4 551.4 L244.5 549.9 L244.5 548.9 M244.7 529.7 L244.7 529.4 L244.7 527.9 L244.7 526.4 L244.7 525.7 M244.9 506.9 L244.9 506.4 L244.9 504.9 L244.9 503.4 L244.9 502.9 M245.1 483.4 L245.1 483.4 L245.2 481.9 L245.2 480.4 L245.2 478.9 L245.2 477.4 L245.2 475.9 L245.2 474.4 L245.3 472.9 L245.3 471.4 L245.3 469.9 L245.3 468.4 L245.3 466.9 L245.3 465.4 L245.4 463.9 M245.6 444.7 L245.6 444.4 L245.6 442.9 L245.6 441.4 L245.6 440.7 M245.8 421.9 L245.8 421.9 L245.8 420.4 L245.8 418.9 L245.8 417.9 M245.9 398.4 L245.9 398.4 L246.0 396.9 L246.0 395.4 L246.0 393.9 L246.0 392.4 L246.0 390.9 L246.0 389.4 L246.0 387.9 L246.0 386.4 L246.0 384.9 L246.1 383.4 L246.1 381.9 L246.1 380.4 L246.1 378.9 M246.3 359.7 L246.3 359.4 L246.3 357.9 L246.3 356.4 L246.3 355.7 M246.5 336.9 L246.5 336.9 L246.5 335.4 L246.5 333.9 L246.5 332.9 M246.8 313.4 L246.8 313.4 L246.8 311.9 L246.8 310.4 L246.9 308.9 L246.9 307.4 L246.9 305.9 L246.9 304.4 L247.0 302.9 L247.0 301.4 L247.0 299.9 L247.0 298.4 L247.1 296.9 L247.1 296.0 M247.3 285.0 L247.3 284.9 L247.3 283.4 L247.4 281.9 L247.4 280.4 L247.4 278.9 L247.5 277.4 L247.5 275.9 L247.6 274.4 L247.7 272.9 L247.8 271.4 L247.8 269.9 L247.9 268.4 L248.0 266.9 L248.1 265.4 L248.2 264.0 M249.6 242.1 L249.6 242.0 L249.7 240.5 L249.7 239.9 M250.3 220.0 L250.3 220.0 L250.4 218.5 L250.4 217.0 L250.5 215.5 L250.5 214.0 L250.6 212.5 L250.7 211.0 L250.7 209.5 L250.8 208.0 L250.9 206.5 L250.9 205.0 L251.0 203.5 L251.1 202.0 L251.2 200.5 L251.2 199.0 L251.3 197.5 L251.4 196.0 L251.5 194.5 L251.6 193.0 L251.7 191.5 L251.8 190.0 L251.9 188.5 L251.9 188.0 M254.3 165.7 L254.3 165.7 L254.5 164.2 L254.6 163.5 M257.6 149.8 L257.7 149.5 L258.1 148.1 L258.4 146.6 L258.8 145.2 L259.2 143.7 L259.5 142.2 L259.9 140.8 L260.3 139.3 L260.8 137.9 L261.2 136.5 L261.7 135.0 L262.2 133.7 L262.5 132.8 M266.1 125.3 L266.4 125.0 L267.3 124.0 L267.6 123.7 M276.0 119.0 L276.1 119.0 L277.5 118.6 L278.6 118.4 M288.6 117.4 L288.9 117.4 L290.4 117.6 L291.9 117.9 L293.4 118.2 L294.8 118.6 L296.3 119.0 L297.8 119.4 L299.2 119.7 L299.6 119.8 M313.5 119.6 L313.9 119.6 L315.1 119.7 L315.7 119.9 M322.5 128.4 L322.7 128.6 L323.8 129.7 L324.1 129.9 M332.4 136.3 L332.5 136.3 L333.8 137.2 L335.0 138.0 L336.3 138.8 L336.9 139.2 M347.1 144.9 L347.2 144.9 L348.5 145.7 L349.1 146.0 M358.6 151.0 L358.7 151.0 L359.9 151.8 L360.5 152.2 M369.6 159.6 L369.8 159.8 L371.0 160.6 L372.2 161.3 L373.5 162.0 L374.9 162.5 L376.3 163.0 L377.7 163.5 L379.2 164.0 L380.6 164.4 L381.6 164.7 M392.9 168.1 L393.1 168.1 L394.5 168.6 L395.0 168.7 M402.5 171.0 L402.7 171.1 L404.1 171.4 L404.6 171.5 M416.1 173.8 L416.5 173.9 L418.0 174.0 L419.4 174.1 L419.7 174.1 M429.2 172.3 L429.2 172.3 L430.7 172.2 L431.4 172.2 M438.8 172.2 L439.2 172.2 L440.7 172.3 L441.0 172.3 M450.5 175.2 L450.8 175.2 L452.3 175.4 L453.8 175.6 L455.3 175.7 L456.8 175.8 L458.3 175.9 L459.8 176.0 L461.3 176.0 L462.8 176.0 L464.3 176.0 L465.6 175.9 M477.1 173.8 L477.1 173.8 L478.5 173.4 L479.2 173.2 M487.6 168.5 L488.0 168.4 L489.3 168.5 L489.7 168.6 M498.2 174.1 L498.6 174.1 L500.0 174.1 L501.6 174.1 L503.1 174.1 L503.8 174.1 M515.3 178.7 L515.6 178.8 L517.0 178.9 L517.5 178.9 M524.9 177.3 L525.3 177.2 L526.8 176.7 L527.0 176.7 M536.5 173.0 L536.5 173.0 L538.0 172.7 L539.5 172.4 L541.0 172.1 L542.5 172.0 L544.0 171.9 L545.5 171.8 L547.0 171.9 L548.5 172.0 L550.0 172.1 L551.5 172.2 L553.0 172.4 L553.6 172.5 M563.1 174.8 L563.2 174.8 L564.6 175.2 L565.2 175.3 M572.6 177.0 L573.0 177.0 L574.4 177.0 L574.8 177.0 M584.4 176.8 L584.4 176.8 L585.8 176.3 L587.2 175.5 L588.1 175.0 M598.4 175.0 L598.9 175.1 L600.4 175.1 L600.6 175.0 M611.6 172.9 L611.5 173.0 L611.9 173.8 L612.9 174.4 M622.1 175.4 L622.3 175.3 L623.8 174.8 L625.3 174.3 L626.7 173.8 L628.2 173.6 L629.7 173.7 L631.1 173.9 L632.6 174.3 L634.0 174.8 L635.5 175.3 L636.9 175.8 L637.2 175.8 M646.7 175.6 L646.9 175.6 L648.4 175.5 L648.9 175.5 M660.1 177.4 L660.2 177.4 L661.7 177.4 L662.3 177.4 M670.9 177.2 L671.2 177.2 L672.7 177.1 L674.2 177.0 L675.7 176.9 L676.4 176.8 M684.9 174.4 L685.4 174.4 L686.9 174.4 L687.1 174.4 M694.5 175.8 L694.8 175.9 L696.2 175.9 L696.7 175.8 M705.2 175.0 L705.3 175.1 L706.6 176.1 L707.9 177.2 L709.1 178.2 L710.5 178.7 L711.9 178.7 L713.3 178.6 L714.8 178.4 L716.3 178.2 L717.5 178.0 M728.9 174.1 L729.3 174.0 L730.7 174.0 L731.1 174.0 M737.5 174.6 L737.7 174.7 L739.2 174.9 L739.7 175.0 M749.2 176.5 L749.3 176.4 L750.8 175.8 L752.2 175.1 L753.6 174.4 L754.8 174.0 M765.3 175.8 L765.7 175.9 L767.1 175.8 L767.4 175.8 M773.9 174.0 L773.9 174.0 L775.4 174.1 L776.0 174.2 M788.4 176.1 L788.4 176.1 L789.8 175.4 L791.2 174.7 L792.6 174.1 L794.1 173.7 L795.5 173.6 L796.9 173.8 L798.4 174.1 L799.9 174.5 L801.4 174.9 L802.8 175.3 L803.5 175.5 M813.4 175.0 L813.8 175.0 L815.2 174.9 L815.6 175.0 M824.1 177.8 L824.3 177.8 L825.8 177.7 L826.3 177.6 M835.3 175.4 L835.5 175.4 L837.0 175.3 L838.5 175.3 L840.0 175.3 L840.8 175.2 M849.4 175.0 L849.5 175.0 L851.0 174.9 L851.6 174.7 M859.3 171.2 L859.3 171.2 L860.7 171.2 L861.5 171.4 M870.6 175.6 L870.7 175.6 L872.2 175.7 L873.7 175.8 L875.2 175.9 L876.7 176.0 L878.2 176.1 L879.7 176.1 L881.2 176.2 L882.8 176.2 L883.8 176.2 M894.3 176.3 L894.4 176.3 L895.8 176.3 L896.5 176.1 M903.3 171.2 L903.4 171.2 L904.8 171.1 L905.5 171.2 M917.5 172.7 L917.6 172.6 L919.1 172.0 L920.5 171.3 L921.9 170.6 L923.3 170.1 L924.0 169.9 M933.6 174.6 L933.9 174.8 L935.3 175.1 L935.7 175.1 M943.1 175.8 L943.3 175.8 L944.8 175.9 L945.3 175.9 M957.7 176.3 L957.9 176.3 L959.3 176.3 L960.7 176.2 L962.2 175.9 L963.6 175.4 L965.0 174.8 L966.4 174.1 L967.8 173.4 L969.1 172.6 L969.4 172.4" stroke="#00f" stroke-width="6" stroke-linecap="round"/>

<!-- legend (a) -->
<line x1="442.8" y1="428.6" x2="535" y2="428.6" stroke="#000" stroke-width="7.9" stroke-linecap="round" stroke-dasharray="0 15.2"/>
<line x1="441.4" y1="515.9" x2="545.1" y2="515.9" stroke="#f00" stroke-width="6.3" stroke-linecap="round"/>
<line x1="441.2" y1="601.1" x2="545.3" y2="601.1" stroke="#00f" stroke-width="5.9" stroke-linecap="round" stroke-dasharray="19.8 19.7 4 19 4 19.3"/>
<g class="tk">
<text x="563" y="444.3"><tspan class="it" font-size="51">ε</tspan><tspan dx="0.5">=0.35</tspan></text>
<text x="560" y="531.6"><tspan class="it" font-size="51">ε</tspan><tspan dx="0.5">=0.5</tspan></text>
<text x="560" y="616.5"><tspan class="it" font-size="51">ε</tspan><tspan dx="0.5">=0.65</tspan></text>
</g>
<!-- y=L box -->
<rect x="850" y="277" width="104" height="67" fill="#000"/>
<rect x="837.3" y="264.9" width="105.4" height="67.5" fill="#fff" stroke="#222" stroke-width="1.1"/>
<text class="tk" x="853" y="314.2">y=<tspan class="it">L</tspan></text>

<!-- ===== Panel (b) ===== -->
<g class="ax">
<rect x="1273.65" y="83.9" width="766.6" height="807.5"/>
<line x1="1273.65" y1="891.4" x2="1289.45" y2="891.4"/>
<line x1="1273.65" y1="833.7" x2="1281.45" y2="833.7"/>
<line x1="1273.65" y1="776.0" x2="1289.45" y2="776.0"/>
<line x1="1273.65" y1="718.4" x2="1281.45" y2="718.4"/>
<line x1="1273.65" y1="660.7" x2="1289.45" y2="660.7"/>
<line x1="1273.65" y1="603.0" x2="1281.45" y2="603.0"/>
<line x1="1273.65" y1="545.3" x2="1289.45" y2="545.3"/>
<line x1="1273.65" y1="487.6" x2="1281.45" y2="487.6"/>
<line x1="1273.65" y1="430.0" x2="1289.45" y2="430.0"/>
<line x1="1273.65" y1="372.3" x2="1281.45" y2="372.3"/>
<line x1="1273.65" y1="314.6" x2="1289.45" y2="314.6"/>
<line x1="1273.65" y1="256.9" x2="1281.45" y2="256.9"/>
<line x1="1273.65" y1="199.3" x2="1289.45" y2="199.3"/>
<line x1="1273.65" y1="141.6" x2="1281.45" y2="141.6"/>
<line x1="1273.65" y1="83.9" x2="1289.45" y2="83.9"/>
<line x1="1291.7" y1="891.4" x2="1291.7" y2="875.6"/>
<line x1="1383.0" y1="891.4" x2="1383.0" y2="883.6"/>
<line x1="1474.3" y1="891.4" x2="1474.3" y2="875.6"/>
<line x1="1565.6" y1="891.4" x2="1565.6" y2="883.6"/>
<line x1="1656.8" y1="891.4" x2="1656.8" y2="875.6"/>
<line x1="1748.1" y1="891.4" x2="1748.1" y2="883.6"/>
<line x1="1839.4" y1="891.4" x2="1839.4" y2="875.6"/>
<line x1="1930.7" y1="891.4" x2="1930.7" y2="883.6"/>
<line x1="2022.0" y1="891.4" x2="2022.0" y2="875.6"/>
</g>
<g class="tk">
<text x="1255" y="904.6" text-anchor="end">1</text>
<text x="1255" y="789.2" text-anchor="end">2</text>
<text x="1255" y="673.9" text-anchor="end">3</text>
<text x="1255" y="558.5" text-anchor="end">4</text>
<text x="1255" y="443.2" text-anchor="end">5</text>
<text x="1255" y="327.8" text-anchor="end">6</text>
<text x="1255" y="212.5" text-anchor="end">7</text>
<text x="1255" y="97.1" text-anchor="end">8</text>
<text x="1291.7" y="946" text-anchor="middle">0</text>
<text x="1473.8" y="946" text-anchor="middle">500</text>
<text x="1656.3" y="946" text-anchor="middle">1000</text>
<text x="1838.9" y="946" text-anchor="middle">1500</text>
<text x="2021.5" y="946" text-anchor="middle">2000</text>
<text x="1156.5" y="99.5" font-size="51">(b)</text>
</g>
<text class="sans" x="1248" y="59.7" font-size="42.5">x10<tspan font-size="25.5" dy="-21.3">5</tspan><tspan dy="21.3">Pa</tspan></text>
<text class="big" x="1658.2" y="1029.3" text-anchor="middle">t(s)</text>
<text class="big" transform="translate(1208,683.5) rotate(-90)">pressure (Pa)</text>

<polyline class="crv" points="1292.1,622.1 1292.2,621.3 1292.2,620.5 1292.2,619.7 1292.3,618.9 1292.3,618.1 1292.3,617.3 1292.4,616.5 1292.4,615.7 1292.4,614.9 1292.5,614.1 1292.5,613.3 1292.5,612.5 1292.6,611.7 1292.6,610.9 1292.6,610.1 1292.7,609.3 1292.7,608.5 1292.7,607.7 1292.7,606.9 1292.8,606.1 1292.8,605.3 1292.8,604.5 1292.9,603.7 1292.9,602.9 1292.9,602.1 1293.0,601.3 1293.0,600.5 1293.0,599.7 1293.0,598.9 1293.1,598.1 1293.1,597.3 1293.1,596.5 1293.2,595.7 1293.2,594.9 1293.2,594.1 1293.2,593.3 1293.3,592.5 1293.3,591.7 1293.3,590.9 1293.4,590.1 1293.4,589.3 1293.4,588.5 1293.4,587.7 1293.5,586.9 1293.5,586.1 1293.5,585.3 1293.5,584.5 1293.6,583.7 1293.6,582.9 1293.6,582.1 1293.6,581.3 1293.7,580.5 1293.7,579.7 1293.7,578.9 1293.7,578.1 1293.8,577.3 1293.8,576.5 1293.8,575.7 1293.8,574.9 1293.9,574.1 1293.9,573.3 1293.9,572.5 1293.9,571.7 1293.9,570.9 1294.0,570.1 1294.0,569.3 1294.0,568.5 1294.0,567.7 1294.1,566.9 1294.1,566.1 1294.1,565.3 1294.1,564.5 1294.1,563.7 1294.1,562.9 1294.2,562.1 1294.2,561.3 1294.2,560.5 1294.2,559.7 1294.2,558.9 1294.3,558.1 1294.3,557.3 1294.3,556.5 1294.3,555.7 1294.3,554.9 1294.3,554.1 1294.4,553.3 1294.4,552.5 1294.4,551.7 1294.4,550.9 1294.4,550.1 1294.5,549.3 1294.5,548.5 1294.5,547.7 1294.5,546.9 1294.5,546.1 1294.5,545.3 1294.6,544.5 1294.6,543.7 1294.6,542.9 1294.6,542.1 1294.6,541.3 1294.7,540.5 1294.7,539.7 1294.7,538.9 1294.7,538.1 1294.7,537.3 1294.8,536.5 1294.8,535.7 1294.8,534.9 1294.8,534.1 1294.8,533.3 1294.9,532.5 1294.9,531.7 1294.9,530.9 1294.9,530.1 1295.0,529.3 1295.0,528.5 1295.0,527.7 1295.0,526.9 1295.1,526.1 1295.1,525.3 1295.1,524.5 1295.1,523.7 1295.2,522.9 1295.2,522.1 1295.2,521.3 1295.3,520.5 1295.3,519.7 1295.3,518.9 1295.4,518.1 1295.4,517.3 1295.4,516.5 1295.5,515.7 1295.5,514.9 1295.5,514.1 1295.6,513.4 1295.6,512.6 1295.6,511.8 1295.7,511.0 1295.7,510.2 1295.8,509.4 1295.8,508.6 1295.8,507.8 1295.9,507.0 1295.9,506.2 1296.0,505.4 1296.0,504.6 1296.0,503.8 1296.1,503.0 1296.1,502.2 1296.2,501.4 1296.2,500.6 1296.2,499.8 1296.3,499.0 1296.3,498.2 1296.4,497.4 1296.4,496.6 1296.5,495.8 1296.5,495.0 1296.6,494.2 1296.6,493.4 1296.6,492.6 1296.7,491.8 1296.7,491.0 1296.8,490.2 1296.8,489.4 1296.9,488.6 1296.9,487.8 1297.0,487.0 1297.0,486.2 1297.0,485.4 1297.1,484.6 1297.1,483.8 1297.2,483.0 1297.2,482.2 1297.3,481.4 1297.3,480.6 1297.4,479.8 1297.4,479.0 1297.4,478.2 1297.5,477.4 1297.5,476.6 1297.6,475.8 1297.6,475.0 1297.7,474.2 1297.7,473.4 1297.8,472.6 1297.8,471.8 1297.8,471.0 1297.9,470.2 1297.9,469.4 1298.0,468.6 1298.0,467.8 1298.1,467.0 1298.1,466.2 1298.1,465.4 1298.2,464.6 1298.2,463.8 1298.3,463.0 1298.3,462.2 1298.4,461.4 1298.4,460.6 1298.4,459.8 1298.5,459.0 1298.5,458.2 1298.6,457.4 1298.6,456.6 1298.7,455.8 1298.7,455.0 1298.8,454.2 1298.8,453.4 1298.9,452.6 1298.9,451.8 1299.0,451.0 1299.0,450.2 1299.0,449.4 1299.1,448.6 1299.1,447.8 1299.2,447.0 1299.2,446.2 1299.3,445.4 1299.3,444.6 1299.4,443.8 1299.4,443.1 1299.5,442.3 1299.5,441.5 1299.6,440.7 1299.6,439.9 1299.7,439.1 1299.7,438.3 1299.8,437.5 1299.9,436.7 1299.9,435.9 1300.0,435.1 1300.0,434.3 1300.1,433.5 1300.1,432.7 1300.2,431.9 1300.2,431.1 1300.3,430.3 1300.4,429.5 1300.4,428.7 1300.5,427.9 1300.5,427.1 1300.6,426.3 1300.7,425.5 1300.7,424.7 1300.8,423.9 1300.9,423.1 1301.0,422.3 1301.0,421.5 1301.1,420.7 1301.2,419.9 1301.3,419.1 1301.4,418.3 1301.5,417.5 1301.5,416.7 1301.6,415.9 1301.7,415.1 1301.8,414.3 1301.9,413.6 1302.0,412.8 1302.1,412.0 1302.2,411.2 1302.3,410.4 1302.4,409.6 1302.4,408.8 1302.5,408.0 1302.6,407.2 1302.7,406.4 1302.8,405.6 1302.9,404.8 1303.0,404.0 1303.1,403.2 1303.2,402.4 1303.2,401.6 1303.3,400.8 1303.4,400.0 1303.5,399.2 1303.6,398.4 1303.7,397.6 1303.7,396.8 1303.8,396.0 1303.9,395.2 1303.9,394.5 1304.0,393.7 1304.1,392.9 1304.1,392.1 1304.2,391.3 1304.3,390.5 1304.3,389.7 1304.4,388.9 1304.4,388.1 1304.4,387.3 1304.5,386.5 1304.5,385.7 1304.5,384.9 1304.6,384.1 1304.6,383.3 1304.6,382.5 1304.6,381.7 1304.7,380.9 1304.7,380.1 1304.7,379.3 1304.7,378.5 1304.7,377.7 1304.8,376.9 1304.8,376.1 1304.8,375.3 1304.8,374.5 1304.8,373.7 1304.8,372.9 1304.9,372.1 1304.9,371.3 1304.9,370.5 1304.9,369.7 1305.0,368.9 1305.0,368.1 1305.1,367.3 1305.1,366.5 1305.2,365.7 1305.3,364.9 1305.3,364.1 1305.4,363.3 1305.5,362.5 1305.6,361.7 1305.6,360.9 1305.7,360.1 1305.8,359.3 1305.9,358.5 1306.0,357.8 1306.1,357.0 1306.2,356.2 1306.4,355.4 1306.5,354.6 1306.6,353.8 1306.7,353.0 1306.8,352.2 1306.9,351.4 1307.1,350.6 1307.2,349.8 1307.3,349.0 1307.4,348.2 1307.5,347.4 1307.7,346.6 1307.8,345.9 1307.9,345.1 1308.0,344.3 1308.2,343.5 1308.3,342.7 1308.4,341.9 1308.5,341.1 1308.6,340.3 1308.7,339.5 1308.8,338.7 1309.0,337.9 1309.1,337.1 1309.2,336.4 1309.3,335.6 1309.4,334.8 1309.5,334.0 1309.7,333.2 1309.8,332.4 1309.9,331.6 1310.0,330.8 1310.1,330.0 1310.3,329.2 1310.4,328.4 1310.5,327.6 1310.6,326.9 1310.8,326.1 1310.9,325.3 1311.0,324.5 1311.1,323.7 1311.3,322.9 1311.4,322.1 1311.5,321.3 1311.7,320.5 1311.8,319.7 1311.9,319.0 1312.1,318.2 1312.2,317.4 1312.3,316.6 1312.5,315.8 1312.6,315.0 1312.8,314.2 1312.9,313.4 1313.0,312.7 1313.2,311.9 1313.3,311.1 1313.5,310.3 1313.6,309.5 1313.8,308.7 1313.9,307.9 1314.1,307.2 1314.3,306.4 1314.4,305.6 1314.6,304.8 1314.7,304.0 1314.9,303.2 1315.1,302.5 1315.2,301.7 1315.4,300.9 1315.6,300.1 1315.8,299.3 1315.9,298.5 1316.1,297.8 1316.3,297.0 1316.5,296.2 1316.7,295.4 1316.8,294.6 1317.0,293.8 1317.2,293.1 1317.4,292.3 1317.6,291.5 1317.8,290.7 1318.0,290.0 1318.3,289.2 1318.5,288.4 1318.7,287.7 1318.9,286.9 1319.2,286.1 1319.4,285.4 1319.6,284.6 1319.9,283.9 1320.1,283.1 1320.4,282.4 1320.6,281.6 1320.9,280.8 1321.2,280.1 1321.4,279.3 1321.7,278.5 1322.0,277.8" stroke="#000" stroke-width="2.5" stroke-linecap="round" stroke-dasharray="2.0 4.1"/>
<polygon points="1310.0,330.1 1311.0,323.3 1312.0,317.1 1313.0,311.2 1314.0,305.4 1315.0,300.6 1316.0,295.9 1317.0,291.0 1318.0,286.9 1319.0,283.2 1320.0,280.4 1321.0,276.1 1322.0,272.6 1323.0,269.7 1324.0,267.2 1325.0,265.9 1326.0,264.0 1327.0,262.6 1328.0,261.1 1329.0,259.2 1330.0,257.2 1331.0,256.9 1332.0,255.8 1333.0,253.4 1334.0,253.0 1335.0,253.3 1336.0,253.4 1337.0,253.2 1338.0,253.3 1339.0,254.2 1340.0,253.9 1341.0,253.9 1342.0,253.7 1343.0,253.8 1344.0,253.5 1345.0,252.8 1346.0,252.3 1347.0,253.2 1348.0,254.9 1349.0,255.5 1350.0,255.9 1351.0,256.1 1352.0,257.7 1353.0,259.1 1354.0,259.6 1355.0,260.8 1356.0,261.2 1357.0,261.6 1358.0,263.9 1359.0,265.3 1360.0,265.2 1361.0,265.5 1362.0,267.5 1363.0,270.0 1364.0,271.2 1365.0,272.5 1366.0,273.0 1367.0,273.7 1368.0,275.6 1369.0,278.2 1370.0,280.3 1371.0,281.6 1372.0,283.1 1373.0,283.7 1374.0,285.8 1375.0,288.0 1376.0,289.5 1377.0,292.1 1378.0,294.0 1379.0,294.9 1380.0,296.8 1381.0,298.3 1382.0,300.2 1383.0,302.4 1384.0,303.7 1385.0,305.5 1386.0,307.5 1387.0,307.9 1388.0,309.3 1389.0,312.4 1390.0,313.9 1391.0,315.7 1392.0,317.3 1393.0,318.8 1394.0,320.1 1395.0,321.3 1396.0,323.9 1397.0,325.4 1398.0,326.2 1399.0,327.4 1400.0,329.7 1401.0,330.7 1402.0,330.6 1403.0,330.8 1404.0,332.7 1405.0,334.3 1406.0,334.6 1407.0,336.6 1408.0,338.9 1409.0,340.1 1410.0,341.7 1411.0,342.9 1412.0,343.8 1413.0,344.9 1414.0,346.0 1415.0,346.8 1416.0,346.0 1417.0,346.9 1418.0,349.0 1419.0,350.1 1420.0,350.5 1421.0,351.1 1422.0,352.1 1423.0,354.0 1424.0,354.2 1425.0,354.2 1426.0,355.1 1427.0,354.7 1428.0,354.9 1429.0,356.3 1430.0,358.1 1431.0,358.6 1432.0,358.3 1433.0,358.6 1434.0,360.6 1435.0,361.4 1436.0,362.3 1437.0,363.3 1438.0,363.7 1439.0,364.9 1440.0,364.9 1441.0,365.5 1442.0,365.6 1443.0,366.8 1444.0,367.8 1445.0,367.9 1446.0,368.2 1447.0,368.6 1448.0,369.5 1449.0,368.9 1450.0,369.1 1451.0,371.0 1452.0,372.2 1453.0,372.6 1454.0,372.3 1455.0,372.7 1456.0,372.9 1457.0,373.2 1458.0,375.0 1459.0,375.1 1460.0,374.3 1461.0,375.0 1462.0,375.7 1463.0,375.3 1464.0,375.7 1465.0,375.6 1466.0,375.8 1467.0,377.8 1468.0,378.6 1469.0,377.1 1470.0,377.1 1471.0,378.9 1472.0,379.5 1473.0,378.8 1474.0,379.5 1475.0,380.0 1476.0,380.5 1477.0,381.0 1478.0,380.9 1479.0,380.6 1480.0,380.8 1481.0,381.4 1482.0,380.8 1483.0,381.5 1484.0,381.8 1485.0,381.7 1486.0,382.4 1487.0,382.3 1488.0,381.8 1489.0,381.2 1490.0,380.8 1491.0,382.7 1492.0,383.8 1493.0,383.6 1494.0,384.5 1495.0,383.7 1496.0,382.8 1497.0,383.2 1498.0,384.3 1499.0,384.2 1500.0,384.5 1501.0,385.3 1502.0,385.4 1503.0,385.1 1504.0,385.5 1505.0,385.8 1506.0,385.5 1507.0,384.5 1508.0,384.4 1509.0,385.4 1510.0,385.5 1511.0,386.4 1512.0,385.4 1513.0,385.1 1514.0,385.4 1515.0,384.9 1516.0,383.9 1517.0,383.3 1518.0,383.7 1519.0,384.1 1520.0,384.4 1521.0,383.8 1522.0,384.1 1523.0,384.4 1524.0,384.5 1525.0,384.4 1526.0,383.9 1527.0,384.3 1528.0,385.1 1529.0,384.8 1530.0,384.8 1531.0,385.0 1532.0,385.5 1533.0,385.7 1534.0,385.2 1535.0,385.6 1536.0,386.0 1537.0,386.2 1538.0,385.8 1539.0,385.7 1540.0,386.1 1541.0,386.2 1542.0,385.4 1543.0,385.5 1544.0,384.7 1545.0,384.1 1546.0,385.6 1547.0,385.8 1548.0,385.2 1549.0,384.2 1550.0,384.0 1551.0,384.5 1552.0,385.0 1553.0,384.6 1554.0,384.4 1555.0,385.3 1556.0,385.3 1557.0,384.7 1558.0,385.2 1559.0,385.3 1560.0,384.0 1561.0,385.0 1562.0,386.1 1563.0,385.6 1564.0,386.4 1565.0,386.8 1566.0,386.9 1567.0,386.5 1568.0,386.2 1569.0,385.6 1570.0,386.5 1571.0,387.1 1572.0,386.2 1573.0,386.4 1574.0,386.1 1575.0,386.7 1576.0,387.7 1577.0,387.3 1578.0,386.5 1579.0,387.0 1580.0,387.2 1581.0,387.4 1582.0,387.8 1583.0,387.0 1584.0,385.8 1585.0,386.2 1586.0,386.5 1587.0,386.3 1588.0,387.0 1589.0,387.3 1590.0,387.6 1591.0,386.2 1592.0,386.4 1593.0,386.4 1594.0,386.3 1595.0,387.1 1596.0,387.7 1597.0,388.0 1598.0,388.0 1599.0,388.5 1600.0,388.4 1601.0,387.3 1602.0,387.1 1603.0,386.9 1604.0,386.8 1605.0,387.8 1606.0,387.4 1607.0,387.7 1608.0,388.4 1609.0,387.6 1610.0,386.5 1611.0,386.5 1612.0,385.9 1613.0,386.0 1614.0,386.7 1615.0,386.7 1616.0,387.1 1617.0,386.7 1618.0,387.0 1619.0,387.6 1620.0,388.0 1621.0,387.7 1622.0,386.4 1623.0,386.6 1624.0,388.1 1625.0,387.8 1626.0,387.4 1627.0,388.2 1628.0,388.1 1629.0,388.4 1630.0,387.4 1631.0,386.1 1632.0,387.5 1633.0,388.0 1634.0,388.0 1635.0,388.0 1636.0,388.1 1637.0,387.5 1638.0,387.6 1639.0,386.9 1640.0,385.6 1641.0,386.9 1642.0,387.4 1643.0,388.2 1644.0,388.2 1645.0,388.5 1646.0,388.9 1647.0,388.5 1648.0,388.3 1649.0,388.5 1650.0,388.3 1651.0,387.5 1652.0,387.6 1653.0,386.5 1654.0,386.4 1655.0,387.8 1656.0,388.3 1657.0,387.3 1658.0,386.6 1659.0,386.9 1660.0,387.3 1661.0,387.5 1662.0,387.7 1663.0,387.9 1664.0,388.8 1665.0,388.3 1666.0,387.2 1667.0,386.3 1668.0,386.7 1669.0,387.9 1670.0,388.4 1671.0,388.5 1672.0,388.2 1673.0,388.1 1674.0,387.0 1675.0,385.8 1676.0,386.5 1677.0,388.1 1678.0,388.7 1679.0,388.9 1680.0,388.0 1681.0,387.5 1682.0,387.9 1683.0,388.1 1684.0,388.1 1685.0,386.7 1686.0,384.8 1687.0,385.4 1688.0,387.3 1689.0,387.0 1690.0,386.5 1691.0,388.3 1692.0,389.0 1693.0,388.6 1694.0,388.8 1695.0,388.3 1696.0,387.4 1697.0,387.4 1698.0,387.7 1699.0,387.0 1700.0,387.5 1701.0,387.5 1702.0,387.3 1703.0,387.5 1704.0,387.7 1705.0,387.8 1706.0,388.1 1707.0,388.4 1708.0,388.1 1709.0,388.1 1710.0,387.9 1711.0,387.3 1712.0,386.4 1713.0,387.6 1714.0,387.9 1715.0,387.8 1716.0,388.0 1717.0,388.4 1718.0,387.9 1719.0,387.6 1720.0,387.8 1721.0,387.0 1722.0,386.8 1723.0,386.7 1724.0,387.0 1725.0,387.7 1726.0,387.6 1727.0,386.7 1728.0,386.8 1729.0,386.2 1730.0,386.5 1731.0,387.7 1732.0,387.4 1733.0,385.6 1734.0,385.1 1735.0,386.9 1736.0,387.4 1737.0,386.7 1738.0,386.5 1739.0,386.2 1740.0,386.9 1741.0,386.7 1742.0,386.8 1743.0,387.5 1744.0,385.5 1745.0,385.3 1746.0,387.2 1747.0,388.0 1748.0,387.4 1749.0,387.1 1750.0,387.0 1751.0,387.2 1752.0,386.6 1753.0,386.3 1754.0,387.4 1755.0,387.7 1756.0,387.3 1757.0,386.9 1758.0,387.8 1759.0,388.0 1760.0,387.2 1761.0,387.5 1762.0,386.0 1763.0,385.5 1764.0,385.6 1765.0,384.5 1766.0,385.4 1767.0,387.0 1768.0,386.9 1769.0,386.2 1770.0,386.6 1771.0,386.9 1772.0,387.1 1773.0,385.9 1774.0,385.7 1775.0,386.4 1776.0,386.2 1777.0,387.0 1778.0,386.9 1779.0,386.3 1780.0,386.0 1781.0,386.5 1782.0,386.0 1783.0,385.8 1784.0,385.7 1785.0,386.5 1786.0,387.6 1787.0,387.7 1788.0,386.9 1789.0,386.7 1790.0,387.2 1791.0,386.8 1792.0,386.0 1793.0,385.7 1794.0,386.8 1795.0,386.2 1796.0,385.6 1797.0,386.7 1798.0,387.0 1799.0,386.8 1800.0,386.3 1801.0,386.8 1802.0,386.6 1803.0,385.6 1804.0,385.8 1805.0,385.6 1806.0,385.7 1807.0,385.8 1808.0,385.7 1809.0,385.4 1810.0,386.0 1811.0,385.8 1812.0,385.8 1813.0,386.1 1814.0,386.1 1815.0,386.1 1816.0,386.2 1817.0,386.7 1818.0,387.1 1819.0,386.8 1820.0,386.3 1821.0,386.2 1822.0,386.1 1823.0,386.6 1824.0,386.3 1825.0,386.7 1826.0,387.2 1827.0,386.8 1828.0,386.3 1829.0,386.5 1830.0,386.5 1831.0,385.6 1832.0,385.8 1833.0,386.7 1834.0,386.6 1835.0,385.8 1836.0,386.3 1837.0,384.9 1838.0,384.7 1839.0,386.1 1840.0,385.9 1841.0,386.1 1842.0,385.7 1843.0,385.4 1844.0,385.5 1845.0,384.5 1846.0,385.0 1847.0,385.8 1848.0,385.9 1849.0,386.5 1850.0,386.4 1851.0,386.1 1852.0,386.1 1853.0,386.0 1854.0,386.4 1855.0,386.5 1856.0,386.3 1857.0,386.8 1858.0,387.0 1859.0,385.5 1860.0,385.3 1861.0,386.1 1862.0,386.7 1863.0,387.5 1864.0,387.1 1865.0,386.5 1866.0,386.5 1867.0,386.9 1868.0,387.1 1869.0,387.0 1870.0,387.2 1871.0,387.5 1872.0,386.9 1873.0,386.6 1874.0,387.0 1875.0,386.1 1876.0,386.6 1877.0,386.6 1878.0,385.3 1879.0,384.9 1880.0,384.4 1881.0,385.4 1882.0,385.5 1883.0,385.8 1884.0,386.2 1885.0,386.2 1886.0,387.7 1887.0,388.6 1888.0,388.5 1889.0,388.1 1890.0,387.9 1891.0,388.1 1892.0,386.9 1893.0,385.5 1894.0,386.5 1895.0,387.1 1896.0,387.6 1897.0,387.9 1898.0,388.2 1899.0,388.2 1900.0,387.0 1901.0,386.6 1902.0,387.3 1903.0,387.4 1904.0,387.7 1905.0,386.2 1906.0,385.7 1907.0,387.0 1908.0,386.4 1909.0,386.1 1910.0,387.2 1911.0,386.2 1912.0,385.1 1913.0,385.0 1914.0,386.1 1915.0,387.6 1916.0,386.4 1917.0,386.2 1918.0,385.2 1919.0,385.8 1920.0,386.9 1921.0,387.0 1922.0,387.5 1923.0,387.2 1924.0,387.1 1925.0,387.9 1926.0,389.3 1927.0,388.7 1928.0,388.5 1929.0,388.9 1930.0,388.7 1931.0,387.8 1932.0,388.3 1933.0,388.7 1934.0,387.9 1935.0,387.5 1936.0,388.5 1937.0,387.6 1938.0,386.6 1939.0,386.7 1940.0,387.8 1941.0,388.9 1942.0,387.0 1943.0,386.0 1944.0,386.8 1945.0,387.3 1946.0,387.4 1947.0,388.1 1948.0,386.9 1949.0,386.8 1950.0,387.4 1951.0,387.0 1952.0,387.5 1953.0,388.7 1954.0,388.0 1955.0,387.1 1956.0,387.7 1957.0,387.8 1958.0,387.9 1959.0,387.7 1960.0,387.6 1961.0,386.5 1962.0,386.9 1963.0,388.3 1964.0,387.9 1965.0,386.6 1966.0,386.9 1967.0,388.4 1968.0,387.9 1969.0,386.8 1970.0,386.3 1971.0,387.2 1972.0,388.5 1973.0,388.3 1974.0,388.0 1975.0,388.5 1976.0,387.9 1977.0,387.2 1978.0,387.2 1979.0,385.6 1980.0,384.2 1981.0,385.7 1982.0,386.2 1983.0,386.0 1984.0,386.4 1985.0,386.3 1986.0,386.3 1987.0,387.3 1988.0,387.6 1989.0,387.7 1990.0,386.9 1991.0,385.4 1992.0,387.1 1993.0,387.5 1994.0,387.7 1995.0,388.2 1996.0,386.8 1997.0,385.6 1998.0,387.5 1999.0,387.9 2000.0,387.4 2001.0,388.3 2002.0,388.4 2003.0,388.0 2004.0,388.6 2005.0,388.9 2006.0,388.6 2007.0,388.3 2008.0,387.7 2009.0,389.0 2010.0,388.9 2011.0,388.3 2012.0,388.2 2013.0,387.4 2014.0,386.5 2015.0,387.1 2016.0,388.6 2017.0,388.2 2018.0,388.1 2019.0,387.6 2020.0,387.5 2021.0,388.2 2022.0,387.8 2022.0,395.8 2021.0,395.4 2020.0,395.7 2019.0,396.1 2018.0,396.6 2017.0,397.1 2016.0,397.0 2015.0,396.7 2014.0,397.9 2013.0,397.9 2012.0,398.3 2011.0,397.8 2010.0,396.9 2009.0,396.7 2008.0,396.2 2007.0,396.5 2006.0,398.4 2005.0,399.2 2004.0,398.2 2003.0,397.2 2002.0,397.7 2001.0,398.0 2000.0,396.8 1999.0,396.5 1998.0,395.4 1997.0,395.2 1996.0,396.6 1995.0,396.2 1994.0,395.6 1993.0,395.9 1992.0,395.9 1991.0,395.7 1990.0,396.1 1989.0,395.7 1988.0,395.7 1987.0,395.6 1986.0,396.0 1985.0,396.7 1984.0,396.7 1983.0,396.6 1982.0,396.2 1981.0,395.2 1980.0,394.4 1979.0,394.8 1978.0,395.3 1977.0,396.2 1976.0,396.1 1975.0,397.1 1974.0,397.9 1973.0,396.9 1972.0,396.8 1971.0,398.2 1970.0,397.9 1969.0,396.4 1968.0,398.0 1967.0,397.9 1966.0,397.4 1965.0,397.7 1964.0,396.5 1963.0,396.1 1962.0,396.9 1961.0,396.6 1960.0,396.1 1959.0,396.2 1958.0,396.2 1957.0,397.1 1956.0,397.4 1955.0,397.0 1954.0,396.9 1953.0,396.3 1952.0,396.9 1951.0,397.6 1950.0,397.5 1949.0,397.3 1948.0,396.7 1947.0,396.2 1946.0,395.2 1945.0,395.0 1944.0,396.3 1943.0,396.5 1942.0,396.2 1941.0,397.3 1940.0,396.5 1939.0,395.8 1938.0,396.0 1937.0,397.5 1936.0,397.8 1935.0,396.6 1934.0,397.2 1933.0,397.0 1932.0,396.7 1931.0,398.0 1930.0,397.5 1929.0,397.1 1928.0,397.4 1927.0,396.8 1926.0,397.1 1925.0,396.7 1924.0,397.4 1923.0,397.0 1922.0,395.8 1921.0,395.5 1920.0,395.7 1919.0,396.0 1918.0,395.1 1917.0,395.2 1916.0,395.0 1915.0,396.0 1914.0,396.0 1913.0,394.4 1912.0,394.5 1911.0,396.4 1910.0,396.4 1909.0,394.8 1908.0,395.5 1907.0,396.1 1906.0,396.5 1905.0,396.4 1904.0,396.7 1903.0,396.3 1902.0,395.4 1901.0,395.3 1900.0,395.8 1899.0,396.7 1898.0,396.5 1897.0,396.7 1896.0,397.0 1895.0,396.0 1894.0,396.6 1893.0,396.1 1892.0,395.7 1891.0,396.8 1890.0,396.8 1889.0,395.8 1888.0,395.6 1887.0,396.0 1886.0,395.6 1885.0,396.0 1884.0,396.2 1883.0,394.7 1882.0,395.2 1881.0,395.2 1880.0,394.0 1879.0,394.4 1878.0,395.1 1877.0,395.1 1876.0,394.7 1875.0,395.0 1874.0,395.5 1873.0,396.1 1872.0,395.9 1871.0,395.4 1870.0,396.6 1869.0,396.0 1868.0,396.1 1867.0,396.5 1866.0,394.9 1865.0,395.3 1864.0,395.2 1863.0,394.6 1862.0,395.7 1861.0,396.6 1860.0,395.9 1859.0,394.8 1858.0,394.3 1857.0,394.8 1856.0,395.2 1855.0,395.6 1854.0,395.7 1853.0,394.2 1852.0,393.8 1851.0,394.6 1850.0,394.8 1849.0,394.0 1848.0,394.0 1847.0,394.7 1846.0,395.0 1845.0,395.3 1844.0,394.2 1843.0,394.4 1842.0,394.8 1841.0,394.3 1840.0,394.9 1839.0,394.9 1838.0,395.2 1837.0,395.8 1836.0,395.6 1835.0,395.2 1834.0,395.7 1833.0,395.5 1832.0,394.7 1831.0,394.2 1830.0,394.6 1829.0,395.6 1828.0,395.1 1827.0,394.2 1826.0,394.4 1825.0,394.6 1824.0,395.0 1823.0,395.9 1822.0,395.4 1821.0,395.3 1820.0,395.7 1819.0,395.3 1818.0,394.6 1817.0,395.2 1816.0,396.1 1815.0,394.9 1814.0,394.7 1813.0,394.9 1812.0,394.7 1811.0,394.4 1810.0,393.9 1809.0,393.9 1808.0,395.3 1807.0,395.4 1806.0,395.1 1805.0,395.0 1804.0,395.3 1803.0,394.6 1802.0,393.9 1801.0,395.3 1800.0,395.8 1799.0,395.3 1798.0,394.9 1797.0,396.3 1796.0,395.1 1795.0,394.4 1794.0,395.3 1793.0,394.6 1792.0,394.3 1791.0,394.2 1790.0,396.1 1789.0,396.1 1788.0,395.4 1787.0,396.2 1786.0,396.9 1785.0,396.1 1784.0,394.7 1783.0,394.5 1782.0,394.5 1781.0,394.4 1780.0,394.6 1779.0,394.9 1778.0,394.4 1777.0,394.3 1776.0,393.9 1775.0,394.5 1774.0,394.5 1773.0,393.9 1772.0,393.7 1771.0,393.6 1770.0,394.5 1769.0,394.5 1768.0,395.2 1767.0,395.7 1766.0,394.8 1765.0,395.2 1764.0,396.4 1763.0,395.6 1762.0,394.8 1761.0,395.4 1760.0,396.8 1759.0,396.8 1758.0,394.7 1757.0,395.2 1756.0,395.6 1755.0,395.3 1754.0,395.9 1753.0,396.6 1752.0,396.8 1751.0,395.4 1750.0,395.7 1749.0,396.2 1748.0,395.2 1747.0,396.5 1746.0,396.3 1745.0,395.0 1744.0,395.4 1743.0,395.2 1742.0,395.8 1741.0,395.6 1740.0,394.4 1739.0,394.8 1738.0,394.7 1737.0,395.3 1736.0,395.9 1735.0,395.6 1734.0,395.3 1733.0,395.0 1732.0,395.1 1731.0,395.1 1730.0,395.5 1729.0,395.8 1728.0,396.5 1727.0,395.6 1726.0,396.3 1725.0,396.1 1724.0,396.1 1723.0,396.9 1722.0,396.6 1721.0,397.2 1720.0,397.8 1719.0,397.0 1718.0,395.9 1717.0,396.2 1716.0,396.3 1715.0,396.4 1714.0,396.9 1713.0,396.6 1712.0,395.4 1711.0,395.8 1710.0,396.5 1709.0,396.0 1708.0,395.1 1707.0,395.7 1706.0,395.8 1705.0,396.8 1704.0,397.2 1703.0,396.0 1702.0,395.3 1701.0,394.8 1700.0,395.5 1699.0,395.6 1698.0,396.2 1697.0,396.5 1696.0,396.6 1695.0,396.8 1694.0,397.0 1693.0,396.5 1692.0,397.7 1691.0,397.4 1690.0,395.7 1689.0,397.2 1688.0,396.8 1687.0,395.6 1686.0,396.0 1685.0,396.7 1684.0,396.7 1683.0,396.6 1682.0,396.9 1681.0,396.4 1680.0,395.6 1679.0,396.5 1678.0,397.8 1677.0,397.7 1676.0,395.8 1675.0,395.3 1674.0,395.9 1673.0,396.6 1672.0,396.5 1671.0,397.6 1670.0,397.2 1669.0,396.0 1668.0,397.0 1667.0,397.7 1666.0,398.1 1665.0,397.4 1664.0,396.8 1663.0,397.0 1662.0,398.0 1661.0,398.0 1660.0,396.8 1659.0,396.6 1658.0,396.5 1657.0,396.8 1656.0,396.7 1655.0,396.4 1654.0,396.2 1653.0,396.7 1652.0,397.5 1651.0,397.5 1650.0,396.8 1649.0,396.2 1648.0,396.9 1647.0,397.0 1646.0,397.7 1645.0,397.3 1644.0,396.6 1643.0,397.0 1642.0,396.4 1641.0,396.5 1640.0,396.1 1639.0,396.5 1638.0,396.5 1637.0,396.9 1636.0,397.4 1635.0,396.5 1634.0,396.0 1633.0,397.2 1632.0,398.0 1631.0,396.7 1630.0,397.0 1629.0,397.7 1628.0,396.5 1627.0,396.0 1626.0,396.6 1625.0,396.6 1624.0,396.2 1623.0,396.3 1622.0,396.9 1621.0,396.5 1620.0,396.6 1619.0,396.8 1618.0,396.5 1617.0,395.7 1616.0,395.6 1615.0,396.4 1614.0,397.5 1613.0,397.0 1612.0,396.0 1611.0,396.4 1610.0,396.2 1609.0,396.1 1608.0,397.2 1607.0,397.0 1606.0,396.2 1605.0,396.1 1604.0,397.6 1603.0,397.2 1602.0,395.8 1601.0,396.5 1600.0,395.6 1599.0,396.8 1598.0,396.8 1597.0,395.6 1596.0,395.7 1595.0,396.3 1594.0,396.4 1593.0,395.3 1592.0,395.7 1591.0,395.3 1590.0,394.9 1589.0,395.6 1588.0,395.5 1587.0,394.8 1586.0,395.5 1585.0,394.8 1584.0,394.6 1583.0,395.2 1582.0,395.5 1581.0,395.2 1580.0,395.0 1579.0,395.5 1578.0,395.5 1577.0,396.8 1576.0,396.1 1575.0,395.0 1574.0,394.7 1573.0,395.1 1572.0,395.0 1571.0,394.8 1570.0,394.6 1569.0,394.7 1568.0,395.9 1567.0,395.9 1566.0,395.5 1565.0,394.9 1564.0,395.3 1563.0,395.0 1562.0,395.8 1561.0,395.4 1560.0,393.5 1559.0,393.2 1558.0,392.8 1557.0,393.3 1556.0,394.5 1555.0,394.8 1554.0,393.7 1553.0,393.1 1552.0,393.7 1551.0,395.0 1550.0,395.2 1549.0,395.1 1548.0,394.3 1547.0,393.8 1546.0,394.4 1545.0,393.7 1544.0,393.8 1543.0,393.6 1542.0,394.3 1541.0,395.2 1540.0,394.8 1539.0,393.8 1538.0,393.3 1537.0,393.6 1536.0,393.1 1535.0,393.5 1534.0,394.7 1533.0,394.5 1532.0,392.4 1531.0,392.3 1530.0,393.5 1529.0,393.7 1528.0,392.8 1527.0,393.4 1526.0,393.2 1525.0,393.6 1524.0,393.9 1523.0,392.6 1522.0,392.2 1521.0,392.6 1520.0,393.0 1519.0,392.6 1518.0,394.1 1517.0,393.8 1516.0,392.5 1515.0,393.5 1514.0,393.7 1513.0,393.2 1512.0,394.0 1511.0,394.1 1510.0,393.4 1509.0,394.4 1508.0,394.1 1507.0,393.9 1506.0,393.5 1505.0,393.2 1504.0,393.3 1503.0,393.8 1502.0,394.0 1501.0,393.1 1500.0,393.0 1499.0,392.2 1498.0,392.4 1497.0,392.4 1496.0,392.4 1495.0,392.7 1494.0,392.6 1493.0,392.4 1492.0,392.4 1491.0,393.3 1490.0,393.2 1489.0,391.3 1488.0,390.4 1487.0,390.2 1486.0,391.0 1485.0,390.7 1484.0,389.9 1483.0,390.4 1482.0,389.9 1481.0,389.7 1480.0,389.6 1479.0,389.4 1478.0,388.5 1477.0,387.8 1476.0,387.7 1475.0,388.6 1474.0,388.5 1473.0,386.8 1472.0,386.7 1471.0,387.8 1470.0,387.3 1469.0,385.2 1468.0,386.1 1467.0,386.0 1466.0,385.3 1465.0,385.2 1464.0,384.4 1463.0,385.5 1462.0,384.7 1461.0,383.2 1460.0,383.3 1459.0,382.8 1458.0,382.3 1457.0,382.2 1456.0,382.8 1455.0,382.8 1454.0,381.3 1453.0,379.9 1452.0,379.7 1451.0,379.0 1450.0,379.0 1449.0,378.3 1448.0,377.8 1447.0,377.1 1446.0,377.3 1445.0,377.6 1444.0,375.8 1443.0,374.6 1442.0,373.8 1441.0,374.2 1440.0,374.4 1439.0,373.3 1438.0,372.0 1437.0,371.5 1436.0,370.7 1435.0,370.2 1434.0,369.2 1433.0,368.8 1432.0,368.0 1431.0,367.4 1430.0,366.5 1429.0,365.3 1428.0,364.9 1427.0,365.0 1426.0,364.6 1425.0,362.7 1424.0,363.0 1423.0,362.5 1422.0,361.2 1421.0,361.0 1420.0,359.8 1419.0,357.9 1418.0,357.0 1417.0,356.4 1416.0,356.4 1415.0,355.3 1414.0,354.1 1413.0,354.3 1412.0,352.3 1411.0,350.3 1410.0,349.8 1409.0,349.4 1408.0,348.9 1407.0,347.0 1406.0,345.2 1405.0,343.4 1404.0,341.2 1403.0,340.0 1402.0,338.6 1401.0,338.3 1400.0,337.9 1399.0,337.6 1398.0,336.8 1397.0,333.9 1396.0,331.4 1395.0,329.2 1394.0,328.1 1393.0,326.8 1392.0,325.5 1391.0,323.5 1390.0,321.5 1389.0,320.9 1388.0,319.4 1387.0,317.3 1386.0,316.4 1385.0,315.5 1384.0,313.6 1383.0,313.0 1382.0,310.9 1381.0,306.8 1380.0,305.9 1379.0,304.6 1378.0,302.9 1377.0,301.1 1376.0,299.2 1375.0,298.1 1374.0,295.2 1373.0,292.9 1372.0,291.5 1371.0,289.8 1370.0,288.1 1369.0,286.5 1368.0,285.4 1367.0,283.8 1366.0,281.8 1365.0,280.1 1364.0,279.2 1363.0,279.9 1362.0,278.7 1361.0,275.5 1360.0,273.5 1359.0,273.1 1358.0,272.1 1357.0,270.7 1356.0,270.0 1355.0,268.5 1354.0,267.7 1353.0,267.0 1352.0,266.2 1351.0,264.8 1350.0,263.7 1349.0,263.6 1348.0,263.3 1347.0,263.5 1346.0,263.3 1345.0,262.1 1344.0,261.5 1343.0,263.0 1342.0,262.4 1341.0,261.6 1340.0,261.7 1339.0,261.2 1338.0,261.8 1337.0,262.9 1336.0,262.1 1335.0,261.6 1334.0,262.3 1333.0,263.7 1332.0,265.7 1331.0,267.7 1330.0,269.2 1329.0,268.9 1328.0,269.7 1327.0,271.7 1326.0,273.0 1325.0,274.1 1324.0,276.0 1323.0,279.0 1322.0,281.6 1321.0,283.8 1320.0,286.8 1319.0,289.9 1318.0,293.1 1317.0,296.3 1316.0,300.6 1315.0,304.9 1314.0,309.5 1313.0,314.5 1312.0,319.9 1311.0,325.7 1310.0,331.9" fill="#000"/>
<polyline class="crv" points="1292.0,795.3 1292.0,794.5 1292.0,793.7 1292.0,792.9 1292.0,792.1 1292.0,791.3 1292.0,790.5 1292.0,789.7 1292.0,788.9 1292.0,788.1 1292.0,787.3 1292.0,786.5 1292.0,785.7 1292.0,784.9 1292.0,784.1 1292.0,783.3 1292.0,782.5 1292.1,781.7 1292.1,780.9 1292.1,780.1 1292.1,779.3 1292.1,778.5 1292.1,777.7 1292.1,776.9 1292.1,776.1 1292.1,775.3 1292.1,774.5 1292.1,773.7 1292.1,772.9 1292.1,772.1 1292.1,771.3 1292.1,770.5 1292.1,769.7 1292.1,768.9 1292.1,768.1 1292.1,767.3 1292.1,766.5 1292.1,765.7 1292.1,764.9 1292.2,764.1 1292.2,763.3 1292.2,762.5 1292.2,761.7 1292.2,760.9 1292.2,760.1 1292.2,759.3 1292.2,758.5 1292.2,757.7 1292.2,756.9 1292.2,756.1 1292.2,755.3 1292.2,754.5 1292.2,753.7 1292.2,752.9 1292.2,752.1 1292.2,751.3 1292.3,750.5 1292.3,749.7 1292.3,748.9 1292.3,748.1 1292.3,747.3 1292.3,746.5 1292.3,745.7 1292.3,744.9 1292.3,744.1 1292.3,743.3 1292.3,742.5 1292.3,741.7 1292.3,740.9 1292.4,740.1 1292.4,739.3 1292.4,738.5 1292.4,737.7 1292.4,736.9 1292.4,736.1 1292.4,735.3 1292.4,734.5 1292.4,733.7 1292.4,732.9 1292.4,732.1 1292.5,731.3 1292.5,730.5 1292.5,729.7 1292.5,728.9 1292.5,728.1 1292.5,727.3 1292.5,726.5 1292.5,725.7 1292.5,724.9 1292.5,724.1 1292.6,723.3 1292.6,722.5 1292.6,721.7 1292.6,720.9 1292.6,720.1 1292.6,719.3 1292.6,718.5 1292.6,717.7 1292.6,716.9 1292.7,716.1 1292.7,715.3 1292.7,714.5 1292.7,713.7 1292.7,712.9 1292.7,712.1 1292.7,711.3 1292.7,710.5 1292.7,709.7 1292.7,708.9 1292.8,708.1 1292.8,707.3 1292.8,706.5 1292.8,705.7 1292.8,704.9 1292.8,704.1 1292.8,703.3 1292.8,702.5 1292.8,701.7 1292.9,700.9 1292.9,700.1 1292.9,699.3 1292.9,698.5 1292.9,697.7 1292.9,696.9 1292.9,696.1 1292.9,695.3 1292.9,694.5 1292.9,693.7 1293.0,692.9 1293.0,692.1 1293.0,691.3 1293.0,690.5 1293.0,689.7 1293.0,688.9 1293.0,688.1 1293.0,687.3 1293.0,686.5 1293.0,685.7 1293.1,684.9 1293.1,684.1 1293.1,683.3 1293.1,682.5 1293.1,681.7 1293.1,680.9 1293.1,680.1 1293.1,679.3 1293.1,678.5 1293.2,677.7 1293.2,676.9 1293.2,676.1 1293.2,675.3 1293.2,674.5 1293.2,673.7 1293.2,672.9 1293.2,672.1 1293.2,671.3 1293.3,670.5 1293.3,669.7 1293.3,668.9 1293.3,668.1 1293.3,667.3 1293.3,666.5 1293.3,665.7 1293.3,664.9 1293.4,664.1 1293.4,663.3 1293.4,662.5 1293.4,661.7 1293.4,660.9 1293.4,660.1 1293.5,659.3 1293.5,658.5 1293.5,657.7 1293.5,656.9 1293.5,656.1 1293.5,655.3 1293.5,654.5 1293.6,653.7 1293.6,652.9 1293.6,652.1 1293.6,651.3 1293.6,650.5 1293.7,649.7 1293.7,648.9 1293.7,648.1 1293.7,647.3 1293.8,646.5 1293.8,645.7 1293.8,644.9 1293.8,644.1 1293.9,643.3 1293.9,642.5 1293.9,641.7 1294.0,640.9 1294.0,640.1 1294.0,639.3 1294.1,638.5 1294.1,637.7 1294.1,636.9 1294.2,636.1 1294.2,635.3 1294.2,634.5 1294.3,633.7 1294.3,632.9 1294.3,632.1 1294.4,631.3 1294.4,630.5 1294.4,629.7 1294.5,628.9 1294.5,628.1 1294.5,627.3 1294.5,626.5 1294.6,625.7 1294.6,624.9 1294.6,624.1 1294.6,623.3 1294.7,622.5 1294.7,621.7 1294.7,620.9 1294.7,620.1 1294.7,619.3 1294.8,618.5 1294.8,617.7 1294.8,616.9 1294.8,616.1 1294.8,615.3 1294.8,614.5 1294.8,613.7 1294.8,612.9 1294.9,612.1 1294.9,611.3 1294.9,610.5 1294.9,609.7 1294.9,608.9 1294.9,608.1 1294.9,607.3 1294.9,606.5 1294.9,605.7 1295.0,604.9 1295.0,604.1 1295.0,603.3 1295.0,602.5 1295.0,601.7 1295.0,600.9 1295.0,600.1 1295.0,599.3 1295.0,598.5 1295.1,597.7 1295.1,596.9 1295.1,596.1 1295.1,595.3 1295.1,594.5 1295.1,593.7 1295.1,592.9 1295.1,592.1 1295.1,591.3 1295.2,590.5 1295.2,589.7 1295.2,588.9 1295.2,588.1 1295.2,587.3 1295.2,586.5 1295.2,585.7 1295.3,584.9 1295.3,584.1 1295.3,583.3 1295.3,582.5 1295.3,581.7 1295.4,580.9 1295.4,580.1 1295.4,579.3 1295.4,578.5 1295.5,577.7 1295.5,576.9 1295.5,576.1 1295.6,575.3 1295.6,574.5 1295.6,573.7 1295.7,572.9 1295.7,572.1 1295.7,571.3 1295.8,570.5 1295.8,569.7 1295.8,568.9 1295.9,568.1 1295.9,567.3 1295.9,566.5 1296.0,565.7 1296.0,564.9 1296.1,564.1 1296.1,563.3 1296.1,562.6 1296.2,561.8 1296.2,561.0 1296.3,560.2 1296.3,559.4 1296.3,558.6 1296.4,557.8 1296.4,557.0 1296.5,556.2 1296.5,555.4 1296.6,554.6 1296.6,553.8 1296.6,553.0 1296.7,552.2 1296.7,551.4 1296.8,550.6 1296.8,549.8 1296.9,549.0 1296.9,548.2 1297.0,547.4 1297.0,546.6 1297.1,545.8 1297.1,545.0 1297.2,544.2 1297.2,543.4 1297.3,542.6 1297.3,541.8 1297.4,541.0 1297.4,540.2 1297.5,539.4 1297.6,538.6 1297.6,537.8 1297.7,537.0 1297.7,536.2 1297.8,535.4 1297.8,534.6 1297.9,533.8 1298.0,533.0 1298.0,532.2 1298.1,531.4 1298.1,530.6 1298.2,529.8 1298.2,529.0 1298.3,528.2 1298.3,527.4 1298.4,526.6 1298.5,525.8 1298.5,525.0 1298.6,524.2 1298.6,523.4 1298.7,522.6 1298.7,521.8 1298.8,521.0 1298.8,520.2 1298.9,519.4 1298.9,518.6 1299.0,517.8 1299.0,517.0 1299.1,516.2 1299.1,515.4 1299.2,514.6 1299.2,513.8 1299.3,513.0 1299.3,512.2 1299.4,511.5 1299.4,510.7 1299.5,509.9 1299.5,509.1 1299.6,508.3 1299.6,507.5 1299.7,506.7 1299.7,505.9 1299.8,505.1 1299.8,504.3 1299.9,503.5 1300.0,502.7 1300.0,501.9 1300.1,501.1 1300.1,500.3 1300.2,499.5 1300.3,498.7 1300.3,497.9 1300.4,497.1 1300.4,496.3 1300.5,495.5 1300.6,494.7 1300.6,493.9 1300.7,493.1 1300.8,492.3 1300.9,491.5 1300.9,490.7 1301.0,489.9 1301.1,489.1 1301.2,488.3 1301.2,487.5 1301.3,486.7 1301.4,485.9 1301.5,485.1 1301.6,484.3 1301.6,483.5 1301.7,482.7 1301.8,482.0 1301.9,481.2 1302.0,480.4 1302.1,479.6 1302.1,478.8 1302.2,478.0 1302.3,477.2 1302.4,476.4 1302.5,475.6 1302.6,474.8 1302.7,474.0 1302.8,473.2 1302.9,472.4 1303.0,471.6 1303.0,470.8 1303.1,470.0 1303.2,469.2 1303.3,468.4 1303.4,467.6 1303.5,466.9 1303.6,466.1 1303.7,465.3 1303.8,464.5 1303.9,463.7 1304.1,462.9 1304.2,462.1 1304.3,461.3 1304.4,460.5 1304.5,459.7 1304.6,458.9 1304.7,458.1 1304.8,457.3 1305.0,456.5 1305.1,455.8 1305.2,455.0 1305.3,454.2 1305.4,453.4 1305.6,452.6 1305.7,451.8 1305.8,451.0 1306.0,450.2 1306.1,449.4 1306.2,448.7 1306.4,447.9 1306.5,447.1 1306.6,446.3 1306.8,445.5 1306.9,444.7 1307.1,443.9 1307.2,443.1 1307.4,442.3 1307.6,441.6 1307.7,440.8 1307.9,440.0 1308.0,439.2 1308.2,438.4 1308.4,437.6 1308.6,436.9 1308.8,436.1 1308.9,435.3 1309.1,434.5 1309.3,433.8 1309.5,433.0 1309.7,432.2 1310.0,431.5 1310.2,430.7 1310.4,429.9 1310.7,429.2 1310.9,428.4 1311.2,427.7 1311.5,426.9 1311.7,426.1 1312.0,425.4 1312.3,424.6 1312.6,423.9 1312.8,423.1 1313.1,422.4 1313.4,421.6 1313.7,420.9 1314.0,420.1 1314.2,419.4 1314.5,418.6 1314.8,417.9 1315.1,417.1 1315.4,416.4 1315.7,415.7 1316.0,414.9 1316.4,414.2 1316.7,413.5 1317.0,412.7 1317.4,412.0 1317.7,411.3" stroke="#f00" stroke-width="3.1" stroke-linecap="round"/>
<polygon points="1306.0,449.1 1307.0,443.3 1308.0,438.2 1309.0,433.4 1310.0,429.6 1311.0,426.4 1312.0,423.3 1313.0,420.2 1314.0,417.1 1315.0,414.1 1316.0,410.6 1317.0,408.3 1318.0,405.0 1319.0,403.3 1320.0,400.8 1321.0,399.5 1322.0,398.6 1323.0,395.6 1324.0,395.2 1325.0,395.5 1326.0,394.0 1327.0,391.4 1328.0,390.0 1329.0,390.9 1330.0,391.7 1331.0,392.5 1332.0,394.6 1333.0,395.5 1334.0,394.9 1335.0,394.2 1336.0,394.0 1337.0,394.1 1338.0,394.5 1339.0,393.3 1340.0,393.3 1341.0,393.7 1342.0,392.7 1343.0,392.4 1344.0,393.4 1345.0,393.4 1346.0,393.3 1347.0,394.6 1348.0,394.1 1349.0,395.0 1350.0,395.0 1351.0,393.9 1352.0,394.7 1353.0,395.9 1354.0,396.9 1355.0,397.5 1356.0,397.9 1357.0,398.8 1358.0,399.1 1359.0,400.0 1360.0,400.6 1361.0,399.7 1362.0,399.9 1363.0,402.3 1364.0,404.3 1365.0,405.3 1366.0,406.6 1367.0,406.9 1368.0,407.3 1369.0,408.7 1370.0,410.7 1371.0,410.8 1372.0,412.7 1373.0,415.8 1374.0,416.5 1375.0,417.6 1376.0,419.4 1377.0,420.3 1378.0,419.5 1379.0,420.5 1380.0,422.1 1381.0,422.6 1382.0,423.7 1383.0,423.9 1384.0,425.8 1385.0,427.6 1386.0,427.2 1387.0,428.2 1388.0,429.7 1389.0,430.5 1390.0,432.5 1391.0,434.2 1392.0,434.1 1393.0,435.2 1394.0,438.0 1395.0,439.5 1396.0,440.5 1397.0,441.5 1398.0,441.9 1399.0,443.3 1400.0,444.6 1401.0,446.0 1402.0,447.2 1403.0,448.6 1404.0,449.6 1405.0,449.2 1406.0,449.9 1407.0,451.0 1408.0,451.5 1409.0,452.0 1410.0,453.3 1411.0,452.1 1412.0,450.1 1413.0,450.9 1414.0,453.4 1415.0,456.0 1416.0,457.0 1417.0,457.6 1418.0,457.8 1419.0,456.9 1420.0,458.2 1421.0,459.9 1422.0,459.0 1423.0,459.3 1424.0,460.6 1425.0,460.7 1426.0,460.1 1427.0,460.2 1428.0,460.2 1429.0,460.2 1430.0,460.9 1431.0,461.9 1432.0,463.2 1433.0,463.5 1434.0,463.1 1435.0,463.3 1436.0,464.1 1437.0,465.3 1438.0,466.5 1439.0,468.8 1440.0,470.1 1441.0,471.1 1442.0,472.8 1443.0,472.9 1444.0,473.3 1445.0,473.5 1446.0,472.8 1447.0,473.0 1448.0,474.3 1449.0,474.5 1450.0,475.5 1451.0,476.8 1452.0,476.8 1453.0,476.4 1454.0,475.6 1455.0,473.4 1456.0,473.5 1457.0,473.7 1458.0,474.4 1459.0,476.7 1460.0,475.6 1461.0,473.1 1462.0,472.9 1463.0,474.2 1464.0,475.3 1465.0,475.1 1466.0,475.2 1467.0,475.0 1468.0,474.8 1469.0,476.2 1470.0,475.9 1471.0,475.6 1472.0,475.8 1473.0,476.4 1474.0,475.4 1475.0,474.4 1476.0,475.4 1477.0,475.7 1478.0,474.9 1479.0,475.9 1480.0,476.9 1481.0,477.4 1482.0,477.6 1483.0,477.1 1484.0,477.3 1485.0,477.5 1486.0,476.1 1487.0,474.4 1488.0,476.4 1489.0,478.3 1490.0,477.6 1491.0,477.6 1492.0,476.4 1493.0,477.7 1494.0,477.9 1495.0,477.2 1496.0,478.7 1497.0,478.9 1498.0,478.7 1499.0,477.6 1500.0,477.6 1501.0,478.3 1502.0,478.7 1503.0,477.7 1504.0,477.8 1505.0,478.5 1506.0,479.4 1507.0,480.5 1508.0,480.8 1509.0,481.1 1510.0,480.2 1511.0,480.6 1512.0,481.0 1513.0,480.4 1514.0,480.4 1515.0,479.4 1516.0,479.6 1517.0,479.8 1518.0,480.1 1519.0,481.9 1520.0,482.3 1521.0,480.0 1522.0,480.6 1523.0,482.8 1524.0,481.3 1525.0,479.7 1526.0,479.4 1527.0,480.7 1528.0,481.9 1529.0,480.2 1530.0,480.5 1531.0,482.0 1532.0,481.5 1533.0,482.1 1534.0,481.6 1535.0,480.8 1536.0,481.1 1537.0,481.6 1538.0,481.2 1539.0,480.9 1540.0,481.5 1541.0,480.8 1542.0,479.8 1543.0,479.6 1544.0,480.5 1545.0,481.6 1546.0,481.5 1547.0,481.3 1548.0,481.6 1549.0,481.5 1550.0,480.4 1551.0,479.1 1552.0,479.3 1553.0,480.7 1554.0,480.0 1555.0,480.1 1556.0,480.4 1557.0,480.5 1558.0,481.2 1559.0,481.5 1560.0,481.1 1561.0,479.5 1562.0,478.5 1563.0,478.9 1564.0,477.7 1565.0,476.9 1566.0,478.7 1567.0,478.9 1568.0,478.6 1569.0,478.2 1570.0,477.3 1571.0,477.6 1572.0,478.1 1573.0,477.9 1574.0,477.3 1575.0,475.7 1576.0,476.1 1577.0,476.8 1578.0,476.8 1579.0,476.7 1580.0,476.1 1581.0,476.4 1582.0,476.6 1583.0,476.6 1584.0,476.5 1585.0,476.2 1586.0,476.9 1587.0,478.0 1588.0,477.6 1589.0,478.9 1590.0,480.0 1591.0,478.8 1592.0,478.5 1593.0,479.2 1594.0,480.1 1595.0,480.5 1596.0,479.5 1597.0,478.5 1598.0,478.2 1599.0,478.0 1600.0,477.2 1601.0,477.6 1602.0,478.9 1603.0,479.3 1604.0,479.4 1605.0,479.9 1606.0,481.3 1607.0,481.2 1608.0,480.5 1609.0,481.9 1610.0,482.9 1611.0,482.1 1612.0,482.3 1613.0,482.7 1614.0,481.4 1615.0,481.5 1616.0,481.0 1617.0,480.0 1618.0,480.3 1619.0,480.4 1620.0,480.9 1621.0,480.7 1622.0,480.2 1623.0,479.9 1624.0,480.2 1625.0,478.5 1626.0,479.2 1627.0,481.2 1628.0,480.7 1629.0,479.6 1630.0,478.9 1631.0,480.6 1632.0,481.8 1633.0,480.1 1634.0,478.3 1635.0,479.4 1636.0,480.4 1637.0,480.6 1638.0,481.3 1639.0,481.6 1640.0,481.9 1641.0,481.0 1642.0,480.4 1643.0,481.4 1644.0,481.0 1645.0,480.4 1646.0,480.5 1647.0,481.0 1648.0,479.6 1649.0,479.0 1650.0,480.2 1651.0,479.6 1652.0,479.5 1653.0,479.5 1654.0,479.8 1655.0,480.3 1656.0,478.3 1657.0,479.3 1658.0,480.4 1659.0,479.9 1660.0,479.1 1661.0,477.9 1662.0,478.4 1663.0,477.8 1664.0,477.6 1665.0,478.7 1666.0,478.6 1667.0,478.3 1668.0,478.9 1669.0,479.5 1670.0,479.3 1671.0,480.0 1672.0,480.7 1673.0,479.6 1674.0,479.9 1675.0,480.9 1676.0,480.9 1677.0,480.0 1678.0,479.7 1679.0,478.7 1680.0,478.6 1681.0,478.8 1682.0,478.2 1683.0,478.4 1684.0,478.2 1685.0,478.6 1686.0,477.9 1687.0,478.1 1688.0,479.1 1689.0,478.8 1690.0,479.1 1691.0,479.0 1692.0,478.5 1693.0,479.1 1694.0,480.6 1695.0,480.6 1696.0,480.4 1697.0,478.7 1698.0,478.6 1699.0,479.3 1700.0,478.6 1701.0,478.2 1702.0,478.6 1703.0,478.4 1704.0,478.3 1705.0,479.6 1706.0,480.4 1707.0,479.6 1708.0,478.1 1709.0,479.0 1710.0,479.7 1711.0,478.7 1712.0,479.0 1713.0,479.8 1714.0,479.4 1715.0,479.0 1716.0,479.1 1717.0,479.8 1718.0,480.1 1719.0,479.9 1720.0,479.7 1721.0,480.8 1722.0,480.8 1723.0,480.7 1724.0,480.9 1725.0,479.6 1726.0,479.8 1727.0,479.7 1728.0,479.8 1729.0,478.0 1730.0,477.8 1731.0,479.2 1732.0,479.6 1733.0,480.7 1734.0,480.6 1735.0,480.8 1736.0,479.8 1737.0,479.3 1738.0,479.8 1739.0,480.0 1740.0,479.8 1741.0,479.6 1742.0,479.4 1743.0,478.4 1744.0,477.2 1745.0,478.2 1746.0,479.5 1747.0,480.2 1748.0,479.6 1749.0,479.4 1750.0,479.0 1751.0,478.9 1752.0,479.6 1753.0,480.3 1754.0,480.6 1755.0,480.2 1756.0,479.6 1757.0,479.4 1758.0,480.3 1759.0,480.4 1760.0,480.0 1761.0,479.2 1762.0,479.2 1763.0,479.7 1764.0,480.3 1765.0,479.5 1766.0,479.7 1767.0,480.0 1768.0,478.2 1769.0,477.3 1770.0,478.8 1771.0,480.2 1772.0,479.1 1773.0,479.1 1774.0,479.5 1775.0,477.7 1776.0,477.6 1777.0,479.8 1778.0,479.7 1779.0,478.5 1780.0,479.2 1781.0,480.3 1782.0,478.7 1783.0,478.3 1784.0,480.2 1785.0,480.4 1786.0,480.4 1787.0,479.9 1788.0,480.2 1789.0,481.2 1790.0,480.9 1791.0,479.9 1792.0,480.0 1793.0,480.6 1794.0,481.8 1795.0,481.2 1796.0,480.5 1797.0,481.6 1798.0,481.5 1799.0,481.6 1800.0,480.9 1801.0,479.5 1802.0,477.8 1803.0,479.5 1804.0,481.7 1805.0,481.6 1806.0,480.5 1807.0,480.5 1808.0,481.7 1809.0,482.0 1810.0,481.9 1811.0,480.9 1812.0,480.8 1813.0,480.8 1814.0,480.9 1815.0,481.4 1816.0,481.0 1817.0,481.1 1818.0,481.0 1819.0,480.2 1820.0,479.8 1821.0,480.4 1822.0,480.9 1823.0,480.8 1824.0,480.1 1825.0,478.9 1826.0,480.1 1827.0,480.6 1828.0,479.9 1829.0,479.5 1830.0,479.3 1831.0,479.5 1832.0,478.5 1833.0,477.9 1834.0,479.1 1835.0,479.4 1836.0,477.7 1837.0,477.8 1838.0,479.2 1839.0,479.5 1840.0,479.8 1841.0,480.0 1842.0,480.9 1843.0,481.3 1844.0,480.9 1845.0,480.4 1846.0,480.6 1847.0,482.1 1848.0,481.4 1849.0,480.7 1850.0,479.5 1851.0,478.9 1852.0,479.9 1853.0,480.3 1854.0,480.4 1855.0,478.9 1856.0,477.2 1857.0,478.6 1858.0,480.5 1859.0,479.8 1860.0,479.8 1861.0,480.2 1862.0,479.9 1863.0,479.0 1864.0,479.8 1865.0,479.4 1866.0,479.8 1867.0,480.3 1868.0,479.2 1869.0,478.4 1870.0,480.1 1871.0,480.2 1872.0,480.2 1873.0,480.9 1874.0,480.4 1875.0,479.8 1876.0,479.4 1877.0,478.3 1878.0,479.0 1879.0,479.8 1880.0,479.9 1881.0,480.3 1882.0,480.2 1883.0,480.9 1884.0,480.8 1885.0,480.8 1886.0,480.0 1887.0,479.7 1888.0,480.2 1889.0,480.1 1890.0,480.4 1891.0,481.7 1892.0,480.7 1893.0,480.6 1894.0,481.8 1895.0,481.4 1896.0,480.5 1897.0,480.0 1898.0,480.0 1899.0,479.1 1900.0,478.3 1901.0,480.0 1902.0,481.1 1903.0,480.4 1904.0,480.1 1905.0,480.8 1906.0,479.8 1907.0,477.9 1908.0,478.7 1909.0,479.4 1910.0,478.7 1911.0,478.4 1912.0,478.7 1913.0,479.4 1914.0,480.4 1915.0,480.6 1916.0,480.0 1917.0,480.2 1918.0,479.7 1919.0,479.3 1920.0,479.8 1921.0,480.7 1922.0,482.6 1923.0,482.0 1924.0,482.5 1925.0,482.8 1926.0,482.3 1927.0,482.6 1928.0,482.2 1929.0,482.0 1930.0,481.2 1931.0,482.0 1932.0,482.2 1933.0,481.7 1934.0,481.1 1935.0,480.0 1936.0,480.7 1937.0,481.7 1938.0,480.2 1939.0,480.2 1940.0,482.5 1941.0,480.6 1942.0,480.6 1943.0,481.8 1944.0,480.7 1945.0,481.0 1946.0,480.8 1947.0,480.2 1948.0,479.1 1949.0,480.1 1950.0,479.8 1951.0,480.4 1952.0,482.0 1953.0,482.0 1954.0,481.3 1955.0,481.4 1956.0,482.1 1957.0,481.2 1958.0,481.4 1959.0,480.6 1960.0,479.5 1961.0,478.8 1962.0,478.4 1963.0,478.5 1964.0,478.8 1965.0,479.4 1966.0,479.2 1967.0,479.3 1968.0,479.2 1969.0,480.3 1970.0,481.4 1971.0,481.3 1972.0,481.3 1973.0,481.3 1974.0,481.2 1975.0,480.6 1976.0,478.7 1977.0,479.2 1978.0,481.0 1979.0,480.6 1980.0,480.0 1981.0,479.6 1982.0,479.2 1983.0,479.6 1984.0,480.5 1985.0,479.8 1986.0,479.7 1987.0,480.1 1988.0,480.1 1989.0,479.3 1990.0,480.2 1991.0,480.0 1992.0,479.8 1993.0,479.8 1994.0,479.9 1995.0,481.1 1996.0,479.9 1997.0,479.4 1998.0,479.3 1999.0,479.8 2000.0,481.0 2001.0,480.5 2002.0,480.8 2003.0,481.1 2004.0,480.9 2005.0,480.6 2006.0,480.1 2007.0,480.9 2008.0,480.9 2009.0,480.6 2010.0,480.9 2011.0,481.0 2012.0,480.1 2013.0,479.0 2014.0,479.7 2015.0,478.8 2016.0,478.1 2017.0,479.5 2018.0,479.0 2019.0,478.7 2020.0,478.4 2021.0,478.6 2022.0,478.8 2022.0,487.5 2021.0,486.8 2020.0,487.1 2019.0,487.2 2018.0,487.2 2017.0,488.4 2016.0,488.5 2015.0,488.6 2014.0,489.4 2013.0,489.6 2012.0,489.0 2011.0,489.5 2010.0,489.5 2009.0,489.1 2008.0,490.3 2007.0,490.1 2006.0,489.0 2005.0,489.5 2004.0,488.7 2003.0,489.1 2002.0,489.8 2001.0,490.5 2000.0,490.1 1999.0,489.6 1998.0,489.3 1997.0,489.0 1996.0,488.8 1995.0,490.0 1994.0,490.2 1993.0,489.1 1992.0,488.7 1991.0,489.0 1990.0,489.1 1989.0,488.2 1988.0,489.2 1987.0,489.7 1986.0,489.9 1985.0,488.7 1984.0,487.6 1983.0,487.6 1982.0,488.1 1981.0,488.7 1980.0,489.2 1979.0,489.1 1978.0,490.0 1977.0,489.4 1976.0,488.9 1975.0,490.8 1974.0,490.6 1973.0,489.9 1972.0,489.9 1971.0,489.4 1970.0,489.9 1969.0,490.0 1968.0,489.3 1967.0,488.6 1966.0,487.7 1965.0,488.8 1964.0,489.9 1963.0,490.0 1962.0,489.6 1961.0,489.9 1960.0,490.8 1959.0,491.3 1958.0,492.0 1957.0,491.4 1956.0,490.6 1955.0,490.4 1954.0,490.5 1953.0,491.9 1952.0,491.6 1951.0,490.4 1950.0,491.1 1949.0,492.0 1948.0,490.3 1947.0,491.3 1946.0,492.0 1945.0,490.0 1944.0,490.0 1943.0,490.8 1942.0,490.6 1941.0,490.4 1940.0,490.3 1939.0,490.8 1938.0,491.0 1937.0,491.5 1936.0,491.5 1935.0,489.7 1934.0,489.6 1933.0,489.7 1932.0,489.8 1931.0,489.8 1930.0,489.7 1929.0,491.0 1928.0,491.6 1927.0,492.8 1926.0,493.4 1925.0,493.8 1924.0,493.2 1923.0,490.7 1922.0,490.9 1921.0,491.9 1920.0,490.8 1919.0,489.6 1918.0,490.0 1917.0,488.9 1916.0,489.0 1915.0,489.4 1914.0,489.3 1913.0,489.0 1912.0,488.4 1911.0,487.9 1910.0,488.8 1909.0,489.1 1908.0,488.9 1907.0,490.0 1906.0,489.4 1905.0,488.2 1904.0,488.7 1903.0,489.7 1902.0,490.0 1901.0,491.2 1900.0,490.4 1899.0,488.8 1898.0,490.5 1897.0,490.1 1896.0,489.8 1895.0,490.4 1894.0,490.6 1893.0,491.2 1892.0,490.0 1891.0,489.7 1890.0,489.7 1889.0,489.8 1888.0,489.6 1887.0,488.0 1886.0,488.2 1885.0,489.3 1884.0,489.5 1883.0,489.3 1882.0,490.5 1881.0,492.8 1880.0,491.8 1879.0,491.4 1878.0,490.2 1877.0,489.4 1876.0,489.5 1875.0,488.4 1874.0,488.0 1873.0,488.5 1872.0,489.7 1871.0,491.2 1870.0,492.0 1869.0,491.6 1868.0,489.9 1867.0,490.1 1866.0,489.9 1865.0,490.2 1864.0,490.2 1863.0,488.5 1862.0,489.8 1861.0,489.5 1860.0,489.2 1859.0,489.0 1858.0,489.0 1857.0,489.4 1856.0,489.7 1855.0,488.6 1854.0,489.4 1853.0,491.3 1852.0,490.4 1851.0,488.3 1850.0,488.4 1849.0,489.0 1848.0,489.9 1847.0,491.6 1846.0,492.1 1845.0,490.8 1844.0,490.4 1843.0,490.7 1842.0,489.0 1841.0,489.6 1840.0,489.0 1839.0,488.8 1838.0,489.9 1837.0,488.0 1836.0,487.7 1835.0,488.0 1834.0,488.4 1833.0,489.1 1832.0,489.6 1831.0,490.1 1830.0,489.7 1829.0,490.0 1828.0,491.0 1827.0,491.6 1826.0,490.6 1825.0,489.2 1824.0,488.7 1823.0,489.1 1822.0,489.8 1821.0,489.2 1820.0,488.9 1819.0,489.8 1818.0,490.9 1817.0,491.9 1816.0,490.7 1815.0,489.6 1814.0,490.0 1813.0,489.8 1812.0,490.5 1811.0,491.0 1810.0,491.6 1809.0,490.9 1808.0,489.9 1807.0,491.7 1806.0,491.6 1805.0,489.9 1804.0,490.0 1803.0,490.2 1802.0,489.1 1801.0,488.9 1800.0,489.5 1799.0,491.2 1798.0,491.7 1797.0,491.0 1796.0,490.7 1795.0,490.4 1794.0,489.9 1793.0,490.5 1792.0,490.7 1791.0,489.0 1790.0,490.3 1789.0,491.6 1788.0,490.6 1787.0,489.2 1786.0,489.0 1785.0,489.3 1784.0,489.0 1783.0,489.1 1782.0,489.1 1781.0,489.0 1780.0,490.5 1779.0,490.3 1778.0,490.3 1777.0,490.1 1776.0,488.3 1775.0,488.2 1774.0,487.8 1773.0,487.4 1772.0,487.5 1771.0,488.1 1770.0,488.1 1769.0,487.9 1768.0,488.2 1767.0,488.8 1766.0,490.2 1765.0,489.7 1764.0,489.1 1763.0,488.9 1762.0,488.1 1761.0,488.5 1760.0,490.5 1759.0,489.8 1758.0,487.8 1757.0,487.7 1756.0,488.3 1755.0,488.6 1754.0,488.9 1753.0,487.9 1752.0,487.4 1751.0,487.5 1750.0,487.8 1749.0,487.4 1748.0,486.7 1747.0,487.2 1746.0,486.7 1745.0,487.3 1744.0,488.6 1743.0,489.1 1742.0,487.9 1741.0,487.9 1740.0,489.1 1739.0,489.8 1738.0,489.5 1737.0,489.2 1736.0,489.1 1735.0,490.4 1734.0,491.1 1733.0,489.5 1732.0,488.0 1731.0,488.1 1730.0,488.3 1729.0,487.8 1728.0,488.8 1727.0,488.6 1726.0,488.4 1725.0,489.1 1724.0,489.1 1723.0,488.9 1722.0,489.0 1721.0,490.4 1720.0,490.3 1719.0,489.8 1718.0,489.8 1717.0,489.7 1716.0,490.2 1715.0,489.6 1714.0,489.4 1713.0,488.4 1712.0,487.8 1711.0,488.1 1710.0,488.7 1709.0,489.5 1708.0,488.6 1707.0,489.1 1706.0,489.9 1705.0,488.9 1704.0,489.0 1703.0,489.1 1702.0,487.9 1701.0,488.5 1700.0,488.6 1699.0,488.7 1698.0,490.3 1697.0,489.6 1696.0,488.7 1695.0,488.7 1694.0,488.7 1693.0,488.3 1692.0,488.1 1691.0,488.5 1690.0,488.7 1689.0,487.9 1688.0,488.0 1687.0,488.7 1686.0,487.7 1685.0,487.9 1684.0,489.0 1683.0,488.5 1682.0,487.6 1681.0,487.3 1680.0,488.4 1679.0,489.0 1678.0,488.3 1677.0,488.7 1676.0,490.2 1675.0,490.2 1674.0,491.3 1673.0,490.8 1672.0,489.9 1671.0,489.6 1670.0,490.7 1669.0,490.0 1668.0,487.8 1667.0,489.1 1666.0,487.6 1665.0,486.8 1664.0,487.1 1663.0,487.0 1662.0,487.5 1661.0,487.7 1660.0,487.8 1659.0,488.1 1658.0,489.1 1657.0,488.6 1656.0,487.6 1655.0,489.8 1654.0,489.6 1653.0,489.5 1652.0,490.3 1651.0,488.8 1650.0,488.4 1649.0,488.1 1648.0,490.2 1647.0,492.1 1646.0,490.9 1645.0,491.2 1644.0,491.3 1643.0,491.2 1642.0,491.6 1641.0,490.5 1640.0,490.1 1639.0,490.1 1638.0,489.6 1637.0,490.6 1636.0,491.6 1635.0,491.2 1634.0,490.4 1633.0,490.4 1632.0,490.4 1631.0,489.8 1630.0,489.6 1629.0,489.7 1628.0,490.4 1627.0,490.9 1626.0,490.3 1625.0,489.6 1624.0,489.2 1623.0,489.3 1622.0,489.1 1621.0,489.3 1620.0,490.2 1619.0,489.8 1618.0,490.0 1617.0,490.2 1616.0,489.6 1615.0,491.6 1614.0,493.0 1613.0,491.6 1612.0,492.3 1611.0,492.1 1610.0,491.1 1609.0,491.0 1608.0,490.3 1607.0,490.6 1606.0,490.8 1605.0,490.3 1604.0,489.8 1603.0,488.2 1602.0,486.9 1601.0,487.5 1600.0,487.1 1599.0,487.7 1598.0,487.6 1597.0,488.4 1596.0,489.5 1595.0,488.9 1594.0,488.7 1593.0,489.1 1592.0,489.4 1591.0,488.3 1590.0,488.2 1589.0,487.7 1588.0,486.9 1587.0,487.4 1586.0,487.2 1585.0,487.2 1584.0,487.1 1583.0,485.1 1582.0,484.2 1581.0,485.0 1580.0,484.9 1579.0,485.0 1578.0,485.8 1577.0,485.6 1576.0,484.4 1575.0,484.6 1574.0,486.6 1573.0,486.7 1572.0,486.8 1571.0,487.6 1570.0,487.5 1569.0,486.8 1568.0,487.6 1567.0,488.9 1566.0,489.1 1565.0,489.1 1564.0,489.6 1563.0,489.8 1562.0,489.2 1561.0,489.1 1560.0,489.4 1559.0,489.1 1558.0,489.5 1557.0,489.2 1556.0,489.2 1555.0,490.4 1554.0,491.6 1553.0,491.3 1552.0,489.4 1551.0,490.1 1550.0,489.7 1549.0,489.0 1548.0,489.6 1547.0,489.4 1546.0,490.9 1545.0,491.2 1544.0,489.8 1543.0,489.9 1542.0,489.8 1541.0,489.7 1540.0,490.9 1539.0,491.3 1538.0,490.3 1537.0,490.9 1536.0,491.2 1535.0,491.3 1534.0,490.7 1533.0,490.1 1532.0,489.8 1531.0,491.0 1530.0,491.6 1529.0,491.0 1528.0,492.0 1527.0,491.5 1526.0,490.1 1525.0,491.0 1524.0,492.5 1523.0,491.8 1522.0,490.8 1521.0,490.1 1520.0,490.1 1519.0,490.2 1518.0,491.5 1517.0,492.1 1516.0,490.5 1515.0,489.6 1514.0,489.7 1513.0,490.4 1512.0,491.1 1511.0,489.8 1510.0,488.8 1509.0,490.2 1508.0,490.5 1507.0,489.6 1506.0,488.4 1505.0,487.9 1504.0,487.8 1503.0,488.0 1502.0,487.8 1501.0,486.6 1500.0,487.1 1499.0,487.3 1498.0,487.5 1497.0,487.2 1496.0,487.2 1495.0,487.3 1494.0,487.4 1493.0,487.9 1492.0,487.4 1491.0,487.2 1490.0,488.5 1489.0,487.9 1488.0,486.7 1487.0,486.8 1486.0,485.6 1485.0,485.3 1484.0,485.4 1483.0,485.7 1482.0,486.0 1481.0,485.5 1480.0,485.7 1479.0,485.8 1478.0,485.9 1477.0,485.6 1476.0,486.3 1475.0,486.6 1474.0,484.8 1473.0,483.8 1472.0,484.5 1471.0,484.6 1470.0,485.7 1469.0,486.6 1468.0,483.9 1467.0,483.9 1466.0,484.0 1465.0,483.3 1464.0,483.3 1463.0,484.2 1462.0,485.9 1461.0,485.0 1460.0,484.7 1459.0,485.6 1458.0,486.9 1457.0,486.2 1456.0,483.9 1455.0,484.6 1454.0,485.8 1453.0,485.3 1452.0,485.6 1451.0,485.3 1450.0,484.5 1449.0,485.7 1448.0,485.8 1447.0,483.0 1446.0,482.5 1445.0,483.0 1444.0,482.5 1443.0,482.4 1442.0,482.4 1441.0,480.9 1440.0,479.5 1439.0,478.5 1438.0,476.6 1437.0,475.3 1436.0,474.5 1435.0,473.9 1434.0,472.4 1433.0,471.2 1432.0,471.7 1431.0,471.6 1430.0,470.7 1429.0,472.2 1428.0,472.7 1427.0,471.5 1426.0,470.5 1425.0,469.1 1424.0,469.4 1423.0,469.3 1422.0,469.0 1421.0,469.9 1420.0,469.6 1419.0,467.2 1418.0,466.6 1417.0,466.7 1416.0,465.9 1415.0,465.2 1414.0,463.7 1413.0,462.9 1412.0,461.6 1411.0,461.5 1410.0,462.1 1409.0,461.5 1408.0,460.5 1407.0,461.0 1406.0,460.4 1405.0,459.4 1404.0,459.6 1403.0,458.5 1402.0,458.4 1401.0,456.5 1400.0,455.3 1399.0,454.0 1398.0,451.5 1397.0,450.4 1396.0,450.5 1395.0,449.1 1394.0,445.9 1393.0,446.7 1392.0,445.2 1391.0,442.3 1390.0,440.9 1389.0,439.7 1388.0,438.6 1387.0,437.4 1386.0,437.7 1385.0,437.9 1384.0,436.1 1383.0,433.3 1382.0,433.6 1381.0,432.8 1380.0,432.4 1379.0,431.5 1378.0,430.2 1377.0,430.5 1376.0,429.6 1375.0,428.3 1374.0,426.3 1373.0,423.9 1372.0,423.0 1371.0,422.2 1370.0,421.0 1369.0,419.2 1368.0,417.7 1367.0,416.9 1366.0,415.6 1365.0,413.6 1364.0,413.2 1363.0,412.1 1362.0,410.2 1361.0,409.6 1360.0,409.7 1359.0,411.3 1358.0,410.2 1357.0,407.5 1356.0,407.2 1355.0,407.0 1354.0,406.5 1353.0,405.7 1352.0,404.1 1351.0,403.3 1350.0,403.5 1349.0,402.8 1348.0,402.8 1347.0,404.0 1346.0,403.0 1345.0,402.4 1344.0,401.9 1343.0,402.6 1342.0,402.9 1341.0,403.2 1340.0,403.7 1339.0,403.9 1338.0,405.0 1337.0,404.7 1336.0,403.4 1335.0,403.2 1334.0,404.2 1333.0,404.0 1332.0,404.4 1331.0,403.4 1330.0,403.8 1329.0,404.3 1328.0,402.8 1327.0,403.2 1326.0,404.5 1325.0,404.6 1324.0,405.0 1323.0,407.5 1322.0,408.7 1321.0,409.1 1320.0,411.0 1319.0,413.3 1318.0,414.5 1317.0,415.8 1316.0,417.6 1315.0,421.1 1314.0,423.3 1313.0,425.7 1312.0,428.4 1311.0,430.9 1310.0,433.8 1309.0,437.0 1308.0,441.1 1307.0,445.9 1306.0,450.9" fill="#f00"/>
<polyline class="crv" points="1291.6,853.7 1291.6,852.9 1291.6,852.1 1291.6,851.3 1291.6,850.5 1291.6,849.7 1291.6,848.9 1291.6,848.1 1291.6,847.3 1291.6,846.5 1291.6,845.7 1291.6,844.9 1291.7,844.1 1291.7,843.3 1291.7,842.5 1291.7,841.7 1291.7,840.9 1291.7,840.1 1291.7,839.3 1291.7,838.5 1291.7,837.7 1291.7,836.9 1291.7,836.1 1291.7,835.3 1291.7,834.5 1291.7,833.7 1291.7,832.9 1291.7,832.1 1291.7,831.3 1291.7,830.5 1291.7,829.7 1291.8,828.9 1291.8,828.1 1291.8,827.3 1291.8,826.5 1291.8,825.7 1291.8,824.9 1291.8,824.1 1291.8,823.3 1291.8,822.5 1291.8,821.7 1291.8,820.9 1291.8,820.1 1291.8,819.3 1291.8,818.5 1291.8,817.7 1291.8,816.9 1291.9,816.1 1291.9,815.3 1291.9,814.5 1291.9,813.7 1291.9,812.9 1291.9,812.1 1291.9,811.3 1291.9,810.5 1291.9,809.7 1291.9,808.9 1291.9,808.1 1291.9,807.3 1291.9,806.5 1291.9,805.7 1292.0,804.9 1292.0,804.1 1292.0,803.3 1292.0,802.5 1292.0,801.7 1292.0,800.9 1292.0,800.1 1292.0,799.3 1292.0,798.5 1292.0,797.7 1292.0,796.9 1292.0,796.1 1292.0,795.3 1292.1,794.5 1292.1,793.7 1292.1,792.9 1292.1,792.1 1292.1,791.3 1292.1,790.5 1292.1,789.7 1292.1,788.9 1292.1,788.1 1292.1,787.3 1292.1,786.5 1292.2,785.7 1292.2,784.9 1292.2,784.1 1292.2,783.3 1292.2,782.5 1292.2,781.7 1292.2,780.9 1292.2,780.1 1292.2,779.3 1292.2,778.5 1292.2,777.7 1292.3,776.9 1292.3,776.1 1292.3,775.3 1292.3,774.5 1292.3,773.7 1292.3,772.9 1292.3,772.1 1292.3,771.3 1292.3,770.5 1292.4,769.7 1292.4,768.9 1292.4,768.1 1292.4,767.3 1292.4,766.5 1292.4,765.7 1292.4,764.9 1292.4,764.1 1292.4,763.3 1292.5,762.5 1292.5,761.7 1292.5,760.9 1292.5,760.1 1292.5,759.3 1292.5,758.5 1292.5,757.7 1292.5,756.9 1292.6,756.1 1292.6,755.3 1292.6,754.5 1292.6,753.7 1292.6,752.9 1292.6,752.1 1292.6,751.3 1292.6,750.5 1292.6,749.7 1292.7,748.9 1292.7,748.1 1292.7,747.3 1292.7,746.5 1292.7,745.7 1292.7,744.9 1292.7,744.1 1292.7,743.3 1292.8,742.5 1292.8,741.7 1292.8,740.9 1292.8,740.1 1292.8,739.3 1292.8,738.5 1292.8,737.7 1292.8,736.9 1292.9,736.1 1292.9,735.3 1292.9,734.5 1292.9,733.7 1292.9,732.9 1292.9,732.1 1292.9,731.3 1293.0,730.5 1293.0,729.7 1293.0,728.9 1293.0,728.1 1293.0,727.3 1293.0,726.5 1293.0,725.7 1293.1,724.9 1293.1,724.1 1293.1,723.3 1293.1,722.5 1293.1,721.7 1293.1,720.9 1293.1,720.1 1293.2,719.3 1293.2,718.5 1293.2,717.7 1293.2,716.9 1293.2,716.1 1293.2,715.3 1293.2,714.5 1293.3,713.7 1293.3,712.9 1293.3,712.1 1293.3,711.3 1293.3,710.5 1293.3,709.7 1293.4,708.9 1293.4,708.1 1293.4,707.3 1293.4,706.5 1293.4,705.7 1293.4,704.9 1293.5,704.1 1293.5,703.3 1293.5,702.5 1293.5,701.7 1293.5,700.9 1293.5,700.1 1293.6,699.3 1293.6,698.5 1293.6,697.7 1293.6,696.9 1293.6,696.1 1293.6,695.3 1293.7,694.5 1293.7,693.7 1293.7,692.9 1293.7,692.1 1293.7,691.3 1293.7,690.5 1293.8,689.7 1293.8,688.9 1293.8,688.1 1293.8,687.3 1293.8,686.5 1293.9,685.7 1293.9,684.9 1293.9,684.1 1293.9,683.3 1293.9,682.5 1294.0,681.7 1294.0,680.9 1294.0,680.1 1294.0,679.3 1294.0,678.5 1294.1,677.7 1294.1,676.9 1294.1,676.1 1294.1,675.3 1294.1,674.5 1294.2,673.7 1294.2,672.9 1294.2,672.1 1294.2,671.3 1294.2,670.5 1294.3,669.7 1294.3,668.9 1294.3,668.1 1294.3,667.3 1294.3,666.5 1294.4,665.7 1294.4,664.9 1294.4,664.1 1294.4,663.3 1294.5,662.5 1294.5,661.7 1294.5,660.9 1294.5,660.1 1294.6,659.3 1294.6,658.5 1294.6,657.7 1294.6,656.9 1294.6,656.1 1294.7,655.3 1294.7,654.5 1294.7,653.7 1294.8,652.9 1294.8,652.1 1294.8,651.3 1294.8,650.5 1294.9,649.7 1294.9,648.9 1294.9,648.1 1294.9,647.3 1295.0,646.5 1295.0,645.7 1295.0,644.9 1295.1,644.1 1295.1,643.3 1295.1,642.5 1295.2,641.7 1295.2,640.9 1295.2,640.1 1295.3,639.3 1295.3,638.5 1295.3,637.7 1295.4,636.9 1295.4,636.1 1295.4,635.3 1295.5,634.5 1295.5,633.7 1295.6,632.9 1295.6,632.1 1295.6,631.3 1295.7,630.5 1295.7,629.8 1295.8,629.0 1295.8,628.2 1295.9,627.4 1295.9,626.6 1296.0,625.8 1296.1,625.0 1296.1,624.2 1296.2,623.4 1296.3,622.6 1296.3,621.8 1296.4,621.0 1296.5,620.2 1296.5,619.4 1296.6,618.6 1296.7,617.8 1296.7,617.0 1296.8,616.2 1296.9,615.4 1296.9,614.6 1297.0,613.8 1297.1,613.0 1297.2,612.2 1297.2,611.4 1297.3,610.6 1297.4,609.8 1297.4,609.0 1297.5,608.2 1297.6,607.4 1297.6,606.6 1297.7,605.8 1297.8,605.0 1297.8,604.2 1297.9,603.4 1298.0,602.6 1298.0,601.8 1298.1,601.0 1298.2,600.2 1298.2,599.4 1298.3,598.6 1298.4,597.8 1298.5,597.0 1298.5,596.2 1298.6,595.5 1298.7,594.7 1298.8,593.9 1298.8,593.1 1298.9,592.3 1299.0,591.5 1299.1,590.7 1299.2,589.9 1299.3,589.1 1299.4,588.3 1299.5,587.5 1299.6,586.7 1299.7,585.9 1299.8,585.1 1299.9,584.3 1300.0,583.5 1300.1,582.8 1300.2,582.0 1300.4,581.2 1300.5,580.4 1300.7,579.6 1300.8,578.8 1301.0,578.0 1301.2,577.3 1301.4,576.5 1301.5,575.7 1301.7,574.9 1301.9,574.1 1302.0,573.3 1302.2,572.6 1302.3,571.8 1302.4,571.0 1302.6,570.2 1302.7,569.4 1302.8,568.6 1302.9,567.8 1303.0,567.0 1303.2,566.2 1303.3,565.4 1303.4,564.7 1303.5,563.9 1303.7,563.1 1303.8,562.3 1304.0,561.5 1304.2,560.7 1304.3,559.9 1304.5,559.2 1304.7,558.4 1304.9,557.6 1305.0,556.8 1305.2,556.0 1305.5,555.3 1305.7,554.5 1305.9,553.7 1306.2,553.0 1306.4,552.2 1306.7,551.5 1307.0,550.8 1307.3,550.0 1307.7,549.3 1308.0,548.6 1308.4,547.8 1308.8,547.1 1309.1,546.4 1309.5,545.7 1309.9,545.0 1310.3,544.3 1310.7,543.6 1311.2,542.9 1311.6,542.2 1312.1,541.6 1312.6,541.0 1313.1,540.4 1313.7,539.9" stroke="#00f" stroke-width="3.2" stroke-linecap="round" stroke-dasharray="12.5 9 12.5 9 9.4 7 6.8 6.5 6.8 6 5.2 6 4.1 5.8 3.4 5.6 2.8 5.5 2.2 5.4 1.8 5.3 1.4 5.2 1 5.2 0.8 5.2 0.5 5.2 0.5 5.2 0.5 5.2 0.5 5.2 0.5 5.2 0.5 5.2 0.5 5.2 0.5 5.2 0.5 5.2 0.5 5.2 0.5 5.2 0.5 5.2 0.5 5.2 0.5 5.2 0.5 5.2 0.5 5.2 0.5 5.2 0.5 5.2 0.5 5.2 0.5 5.2 0.5 5.2 0.5 5.2 0.5 5.2 0.5 5.2 0.5 5.2 0.5 5.2 0.5 5.2 0.5 5.2 0.5 5.2 0.5 5.2 0.5 5.2 0.5 5.2 0.5 5.2 0.5 5.2 0.5 5.2 0.5 5.2 0.5 5.2 0.5 5.2 0.5 5.2 0.5 5.2"/>
<polygon points="1302.0,572.6 1303.0,566.2 1304.0,559.9 1305.0,555.0 1306.0,552.0 1307.0,549.6 1308.0,546.9 1309.0,544.2 1310.0,542.4 1311.0,540.4 1312.0,537.9 1313.0,536.5 1314.0,535.9 1315.0,534.7 1316.0,533.9 1317.0,532.5 1318.0,532.1 1319.0,532.5 1320.0,532.7 1321.0,532.4 1322.0,532.0 1323.0,533.3 1324.0,534.0 1325.0,531.7 1326.0,530.4 1327.0,532.3 1328.0,532.7 1329.0,531.6 1330.0,531.2 1331.0,531.5 1332.0,532.3 1333.0,532.2 1334.0,532.6 1335.0,530.2 1336.0,528.4 1337.0,530.0 1338.0,530.9 1339.0,529.5 1340.0,529.6 1341.0,530.6 1342.0,528.9 1343.0,530.5 1344.0,533.0 1345.0,534.2 1346.0,534.1 1347.0,533.5 1348.0,533.9 1349.0,534.4 1350.0,534.3 1351.0,534.7 1352.0,535.4 1353.0,533.6 1354.0,532.0 1355.0,530.7 1356.0,531.7 1357.0,533.7 1358.0,532.0 1359.0,531.8 1360.0,531.0 1361.0,530.9 1362.0,532.8 1363.0,532.5 1364.0,533.1 1365.0,535.5 1366.0,537.4 1367.0,537.8 1368.0,538.9 1369.0,540.0 1370.0,541.0 1371.0,542.5 1372.0,543.9 1373.0,545.9 1374.0,545.6 1375.0,544.2 1376.0,546.4 1377.0,547.8 1378.0,546.5 1379.0,546.6 1380.0,547.8 1381.0,547.6 1382.0,547.5 1383.0,545.6 1384.0,543.7 1385.0,545.7 1386.0,545.2 1387.0,546.2 1388.0,547.7 1389.0,548.6 1390.0,549.6 1391.0,550.7 1392.0,552.0 1393.0,549.5 1394.0,550.6 1395.0,551.2 1396.0,551.9 1397.0,554.4 1398.0,555.1 1399.0,555.6 1400.0,556.2 1401.0,555.4 1402.0,554.9 1403.0,556.5 1404.0,556.5 1405.0,557.1 1406.0,558.1 1407.0,557.9 1408.0,560.1 1409.0,562.6 1410.0,562.2 1411.0,562.1 1412.0,564.4 1413.0,566.0 1414.0,566.0 1415.0,565.7 1416.0,565.4 1417.0,566.2 1418.0,567.8 1419.0,567.1 1420.0,565.2 1421.0,568.5 1422.0,571.2 1423.0,571.2 1424.0,571.9 1425.0,573.2 1426.0,574.6 1427.0,574.7 1428.0,575.2 1429.0,573.3 1430.0,573.2 1431.0,571.7 1432.0,567.8 1433.0,568.3 1434.0,568.9 1435.0,570.2 1436.0,571.0 1437.0,569.6 1438.0,569.4 1439.0,570.3 1440.0,570.9 1441.0,571.3 1442.0,572.9 1443.0,572.4 1444.0,571.1 1445.0,572.5 1446.0,572.4 1447.0,570.8 1448.0,570.1 1449.0,571.2 1450.0,572.8 1451.0,574.5 1452.0,574.5 1453.0,573.7 1454.0,573.0 1455.0,573.3 1456.0,573.1 1457.0,570.9 1458.0,570.8 1459.0,571.6 1460.0,571.4 1461.0,572.3 1462.0,572.3 1463.0,572.3 1464.0,573.4 1465.0,573.8 1466.0,574.5 1467.0,576.6 1468.0,576.3 1469.0,574.4 1470.0,576.2 1471.0,578.0 1472.0,577.2 1473.0,578.3 1474.0,577.1 1475.0,576.3 1476.0,578.1 1477.0,577.3 1478.0,576.4 1479.0,577.2 1480.0,578.2 1481.0,578.4 1482.0,577.0 1483.0,577.6 1484.0,578.1 1485.0,576.8 1486.0,578.4 1487.0,578.2 1488.0,579.1 1489.0,579.5 1490.0,578.5 1491.0,578.1 1492.0,577.4 1493.0,578.0 1494.0,578.3 1495.0,578.0 1496.0,576.0 1497.0,576.4 1498.0,578.0 1499.0,578.1 1500.0,579.0 1501.0,579.0 1502.0,578.7 1503.0,575.9 1504.0,577.5 1505.0,579.9 1506.0,577.0 1507.0,575.8 1508.0,579.0 1509.0,579.8 1510.0,578.4 1511.0,575.2 1512.0,575.2 1513.0,576.2 1514.0,575.2 1515.0,577.7 1516.0,578.1 1517.0,578.9 1518.0,578.0 1519.0,578.5 1520.0,578.9 1521.0,577.3 1522.0,576.8 1523.0,577.3 1524.0,576.9 1525.0,576.7 1526.0,577.5 1527.0,577.3 1528.0,577.7 1529.0,574.5 1530.0,574.0 1531.0,577.1 1532.0,577.4 1533.0,576.2 1534.0,577.2 1535.0,579.1 1536.0,578.5 1537.0,578.8 1538.0,577.7 1539.0,576.3 1540.0,577.4 1541.0,579.0 1542.0,575.9 1543.0,574.0 1544.0,577.0 1545.0,577.4 1546.0,578.6 1547.0,579.5 1548.0,578.9 1549.0,579.2 1550.0,577.9 1551.0,579.1 1552.0,580.8 1553.0,581.5 1554.0,580.8 1555.0,581.1 1556.0,580.2 1557.0,578.6 1558.0,577.5 1559.0,576.0 1560.0,576.7 1561.0,576.9 1562.0,577.1 1563.0,577.0 1564.0,579.4 1565.0,578.1 1566.0,576.6 1567.0,578.1 1568.0,579.3 1569.0,580.3 1570.0,579.4 1571.0,579.2 1572.0,579.8 1573.0,578.4 1574.0,577.0 1575.0,575.9 1576.0,576.3 1577.0,577.4 1578.0,575.8 1579.0,573.7 1580.0,574.5 1581.0,575.3 1582.0,573.8 1583.0,573.2 1584.0,574.5 1585.0,573.3 1586.0,572.7 1587.0,572.7 1588.0,572.5 1589.0,572.3 1590.0,572.2 1591.0,574.2 1592.0,574.6 1593.0,575.5 1594.0,576.1 1595.0,575.7 1596.0,573.2 1597.0,571.6 1598.0,572.8 1599.0,574.3 1600.0,575.4 1601.0,574.3 1602.0,574.1 1603.0,575.5 1604.0,576.2 1605.0,576.1 1606.0,575.8 1607.0,575.1 1608.0,575.5 1609.0,575.8 1610.0,576.2 1611.0,576.7 1612.0,574.7 1613.0,575.9 1614.0,576.8 1615.0,576.2 1616.0,575.7 1617.0,576.1 1618.0,575.8 1619.0,574.3 1620.0,575.2 1621.0,576.6 1622.0,576.9 1623.0,577.4 1624.0,577.0 1625.0,577.0 1626.0,577.7 1627.0,577.3 1628.0,579.1 1629.0,580.2 1630.0,577.8 1631.0,576.4 1632.0,575.9 1633.0,578.2 1634.0,581.0 1635.0,581.4 1636.0,580.0 1637.0,577.0 1638.0,577.7 1639.0,579.2 1640.0,577.5 1641.0,577.8 1642.0,580.3 1643.0,580.2 1644.0,579.5 1645.0,579.5 1646.0,579.2 1647.0,578.5 1648.0,578.9 1649.0,578.1 1650.0,575.8 1651.0,574.5 1652.0,576.4 1653.0,577.7 1654.0,574.8 1655.0,576.0 1656.0,578.2 1657.0,576.7 1658.0,576.2 1659.0,576.8 1660.0,577.1 1661.0,576.7 1662.0,577.0 1663.0,575.3 1664.0,575.5 1665.0,578.2 1666.0,578.9 1667.0,578.3 1668.0,576.2 1669.0,575.3 1670.0,575.6 1671.0,576.2 1672.0,577.7 1673.0,577.6 1674.0,576.8 1675.0,577.0 1676.0,576.5 1677.0,574.4 1678.0,575.6 1679.0,578.1 1680.0,579.4 1681.0,579.3 1682.0,579.0 1683.0,579.2 1684.0,578.2 1685.0,577.5 1686.0,576.7 1687.0,576.8 1688.0,575.4 1689.0,576.1 1690.0,576.6 1691.0,575.7 1692.0,573.9 1693.0,573.9 1694.0,575.5 1695.0,574.6 1696.0,575.0 1697.0,573.7 1698.0,575.1 1699.0,577.6 1700.0,577.9 1701.0,576.9 1702.0,575.8 1703.0,575.5 1704.0,575.6 1705.0,577.4 1706.0,577.9 1707.0,577.3 1708.0,576.4 1709.0,576.1 1710.0,576.4 1711.0,575.3 1712.0,574.5 1713.0,575.8 1714.0,576.7 1715.0,577.2 1716.0,575.4 1717.0,575.2 1718.0,575.9 1719.0,576.1 1720.0,575.7 1721.0,576.6 1722.0,577.6 1723.0,576.4 1724.0,577.6 1725.0,577.4 1726.0,577.4 1727.0,576.9 1728.0,574.3 1729.0,575.0 1730.0,578.1 1731.0,577.5 1732.0,576.8 1733.0,577.4 1734.0,578.0 1735.0,578.0 1736.0,577.7 1737.0,577.9 1738.0,578.5 1739.0,578.4 1740.0,575.6 1741.0,576.3 1742.0,578.5 1743.0,577.9 1744.0,577.7 1745.0,577.7 1746.0,576.0 1747.0,576.9 1748.0,578.2 1749.0,577.5 1750.0,578.7 1751.0,579.4 1752.0,576.2 1753.0,575.9 1754.0,577.5 1755.0,574.7 1756.0,576.4 1757.0,578.9 1758.0,578.7 1759.0,577.0 1760.0,575.3 1761.0,577.4 1762.0,578.2 1763.0,576.6 1764.0,577.8 1765.0,576.7 1766.0,575.6 1767.0,577.7 1768.0,576.7 1769.0,577.4 1770.0,580.2 1771.0,580.4 1772.0,580.2 1773.0,577.6 1774.0,577.2 1775.0,579.6 1776.0,578.6 1777.0,579.3 1778.0,579.1 1779.0,579.0 1780.0,578.6 1781.0,578.8 1782.0,578.4 1783.0,577.6 1784.0,579.7 1785.0,579.6 1786.0,578.6 1787.0,578.7 1788.0,579.0 1789.0,578.7 1790.0,576.7 1791.0,575.5 1792.0,577.8 1793.0,578.9 1794.0,577.6 1795.0,576.0 1796.0,576.0 1797.0,578.0 1798.0,578.3 1799.0,578.4 1800.0,578.3 1801.0,577.5 1802.0,577.2 1803.0,577.7 1804.0,578.3 1805.0,577.9 1806.0,575.8 1807.0,575.0 1808.0,575.5 1809.0,573.8 1810.0,575.5 1811.0,577.8 1812.0,576.4 1813.0,576.3 1814.0,577.2 1815.0,576.3 1816.0,576.8 1817.0,577.7 1818.0,577.7 1819.0,576.8 1820.0,576.9 1821.0,576.5 1822.0,574.3 1823.0,576.5 1824.0,576.4 1825.0,575.0 1826.0,575.1 1827.0,575.6 1828.0,574.0 1829.0,573.3 1830.0,575.9 1831.0,576.0 1832.0,574.0 1833.0,574.7 1834.0,577.9 1835.0,579.8 1836.0,578.6 1837.0,578.7 1838.0,579.6 1839.0,578.1 1840.0,578.9 1841.0,578.1 1842.0,575.5 1843.0,574.6 1844.0,575.5 1845.0,576.7 1846.0,576.9 1847.0,576.6 1848.0,575.8 1849.0,576.4 1850.0,578.5 1851.0,579.8 1852.0,579.3 1853.0,577.9 1854.0,579.0 1855.0,576.7 1856.0,574.0 1857.0,575.7 1858.0,577.7 1859.0,578.3 1860.0,578.1 1861.0,577.8 1862.0,577.8 1863.0,578.7 1864.0,578.4 1865.0,576.9 1866.0,577.4 1867.0,579.2 1868.0,578.6 1869.0,578.9 1870.0,576.9 1871.0,577.1 1872.0,579.8 1873.0,578.1 1874.0,576.2 1875.0,576.6 1876.0,578.2 1877.0,578.2 1878.0,578.5 1879.0,578.4 1880.0,578.8 1881.0,576.7 1882.0,576.7 1883.0,577.8 1884.0,576.7 1885.0,576.7 1886.0,577.2 1887.0,576.6 1888.0,575.3 1889.0,576.4 1890.0,577.4 1891.0,577.9 1892.0,578.4 1893.0,578.3 1894.0,578.6 1895.0,579.0 1896.0,579.5 1897.0,576.2 1898.0,575.8 1899.0,579.3 1900.0,578.9 1901.0,578.6 1902.0,578.9 1903.0,578.2 1904.0,575.7 1905.0,577.1 1906.0,577.8 1907.0,577.4 1908.0,579.2 1909.0,578.0 1910.0,575.4 1911.0,575.9 1912.0,577.9 1913.0,576.6 1914.0,576.2 1915.0,577.8 1916.0,576.2 1917.0,576.2 1918.0,579.4 1919.0,578.7 1920.0,578.2 1921.0,578.8 1922.0,578.6 1923.0,577.6 1924.0,575.8 1925.0,576.6 1926.0,576.8 1927.0,576.8 1928.0,578.3 1929.0,577.1 1930.0,575.3 1931.0,575.6 1932.0,576.6 1933.0,577.0 1934.0,577.0 1935.0,576.2 1936.0,577.2 1937.0,579.2 1938.0,578.4 1939.0,578.6 1940.0,578.2 1941.0,578.2 1942.0,578.0 1943.0,578.1 1944.0,577.8 1945.0,575.0 1946.0,575.6 1947.0,577.5 1948.0,579.7 1949.0,578.2 1950.0,575.2 1951.0,577.2 1952.0,576.5 1953.0,575.5 1954.0,578.0 1955.0,576.2 1956.0,574.2 1957.0,577.1 1958.0,580.0 1959.0,580.0 1960.0,578.9 1961.0,576.5 1962.0,577.2 1963.0,579.1 1964.0,576.8 1965.0,577.3 1966.0,579.3 1967.0,578.6 1968.0,578.9 1969.0,579.5 1970.0,578.8 1971.0,578.3 1972.0,577.2 1973.0,577.9 1974.0,577.8 1975.0,576.5 1976.0,576.9 1977.0,577.0 1978.0,578.6 1979.0,578.6 1980.0,578.5 1981.0,577.0 1982.0,576.5 1983.0,577.7 1984.0,577.1 1985.0,576.7 1986.0,577.4 1987.0,578.2 1988.0,576.3 1989.0,577.2 1990.0,576.9 1991.0,574.6 1992.0,576.1 1993.0,575.7 1994.0,575.3 1995.0,576.5 1996.0,576.2 1997.0,576.6 1998.0,577.4 1999.0,577.4 2000.0,575.8 2001.0,575.0 2002.0,575.9 2003.0,575.7 2004.0,575.7 2005.0,575.9 2006.0,576.0 2007.0,576.7 2008.0,576.1 2009.0,576.7 2010.0,576.1 2011.0,574.0 2012.0,573.6 2013.0,574.6 2014.0,575.1 2015.0,575.1 2016.0,576.5 2017.0,577.1 2018.0,577.6 2019.0,578.2 2020.0,578.4 2021.0,578.2 2022.0,578.7 2022.0,587.6 2021.0,585.6 2020.0,584.4 2019.0,584.3 2018.0,585.8 2017.0,585.6 2016.0,586.3 2015.0,586.2 2014.0,584.5 2013.0,583.6 2012.0,584.5 2011.0,584.0 2010.0,582.8 2009.0,583.0 2008.0,582.4 2007.0,582.7 2006.0,583.5 2005.0,584.6 2004.0,583.6 2003.0,582.5 2002.0,583.8 2001.0,584.6 2000.0,583.8 1999.0,583.7 1998.0,584.6 1997.0,584.7 1996.0,586.0 1995.0,586.3 1994.0,584.4 1993.0,585.6 1992.0,587.1 1991.0,585.9 1990.0,585.8 1989.0,587.3 1988.0,586.3 1987.0,585.1 1986.0,586.7 1985.0,587.1 1984.0,586.3 1983.0,586.7 1982.0,584.9 1981.0,584.6 1980.0,584.9 1979.0,584.9 1978.0,586.1 1977.0,584.9 1976.0,584.7 1975.0,585.9 1974.0,587.6 1973.0,587.1 1972.0,587.2 1971.0,587.1 1970.0,585.1 1969.0,586.1 1968.0,586.8 1967.0,586.0 1966.0,587.3 1965.0,587.7 1964.0,585.7 1963.0,586.8 1962.0,588.0 1961.0,587.2 1960.0,586.1 1959.0,586.9 1958.0,587.6 1957.0,586.4 1956.0,585.9 1955.0,585.4 1954.0,585.8 1953.0,586.1 1952.0,585.2 1951.0,586.6 1950.0,586.5 1949.0,586.6 1948.0,586.5 1947.0,585.1 1946.0,584.6 1945.0,584.4 1944.0,585.1 1943.0,584.1 1942.0,584.3 1941.0,586.2 1940.0,586.4 1939.0,585.3 1938.0,586.4 1937.0,586.1 1936.0,584.0 1935.0,585.0 1934.0,583.9 1933.0,584.6 1932.0,586.5 1931.0,588.1 1930.0,587.3 1929.0,585.8 1928.0,587.8 1927.0,587.3 1926.0,585.1 1925.0,585.6 1924.0,585.1 1923.0,584.8 1922.0,586.1 1921.0,585.3 1920.0,586.1 1919.0,587.4 1918.0,586.3 1917.0,585.6 1916.0,587.3 1915.0,587.0 1914.0,584.7 1913.0,584.8 1912.0,584.6 1911.0,584.4 1910.0,587.1 1909.0,588.5 1908.0,587.0 1907.0,587.3 1906.0,587.8 1905.0,588.8 1904.0,588.6 1903.0,587.0 1902.0,585.7 1901.0,587.1 1900.0,588.8 1899.0,586.6 1898.0,586.6 1897.0,586.2 1896.0,586.1 1895.0,586.5 1894.0,587.0 1893.0,587.5 1892.0,586.4 1891.0,585.5 1890.0,585.0 1889.0,584.0 1888.0,583.2 1887.0,585.5 1886.0,586.2 1885.0,584.7 1884.0,584.6 1883.0,585.4 1882.0,584.9 1881.0,587.0 1880.0,589.4 1879.0,586.5 1878.0,584.6 1877.0,587.0 1876.0,588.0 1875.0,585.3 1874.0,587.0 1873.0,588.2 1872.0,588.2 1871.0,587.7 1870.0,586.4 1869.0,585.9 1868.0,586.8 1867.0,587.5 1866.0,586.0 1865.0,585.6 1864.0,585.5 1863.0,585.8 1862.0,586.7 1861.0,586.4 1860.0,584.7 1859.0,584.0 1858.0,585.7 1857.0,586.4 1856.0,586.4 1855.0,587.7 1854.0,588.5 1853.0,589.4 1852.0,589.2 1851.0,587.9 1850.0,585.1 1849.0,583.1 1848.0,586.3 1847.0,585.6 1846.0,583.5 1845.0,584.3 1844.0,584.4 1843.0,584.9 1842.0,584.8 1841.0,586.1 1840.0,586.9 1839.0,587.8 1838.0,588.7 1837.0,588.0 1836.0,588.5 1835.0,587.1 1834.0,585.1 1833.0,587.6 1832.0,588.1 1831.0,584.2 1830.0,583.3 1829.0,583.8 1828.0,583.7 1827.0,583.8 1826.0,584.5 1825.0,586.2 1824.0,585.1 1823.0,584.3 1822.0,585.4 1821.0,586.1 1820.0,585.3 1819.0,584.3 1818.0,585.2 1817.0,586.0 1816.0,585.2 1815.0,585.6 1814.0,586.9 1813.0,588.0 1812.0,587.7 1811.0,585.4 1810.0,585.3 1809.0,585.6 1808.0,585.3 1807.0,585.5 1806.0,585.4 1805.0,584.6 1804.0,584.8 1803.0,585.5 1802.0,584.3 1801.0,584.0 1800.0,586.9 1799.0,587.0 1798.0,585.5 1797.0,585.6 1796.0,584.2 1795.0,584.7 1794.0,587.5 1793.0,588.7 1792.0,587.4 1791.0,586.1 1790.0,586.3 1789.0,588.9 1788.0,590.1 1787.0,588.9 1786.0,587.2 1785.0,586.7 1784.0,585.6 1783.0,587.3 1782.0,590.3 1781.0,588.0 1780.0,586.0 1779.0,587.2 1778.0,589.0 1777.0,587.5 1776.0,586.8 1775.0,589.9 1774.0,590.4 1773.0,587.8 1772.0,585.9 1771.0,587.9 1770.0,587.8 1769.0,586.5 1768.0,586.5 1767.0,586.9 1766.0,586.9 1765.0,585.5 1764.0,584.5 1763.0,584.6 1762.0,585.3 1761.0,585.7 1760.0,586.4 1759.0,586.9 1758.0,586.0 1757.0,585.7 1756.0,584.6 1755.0,585.5 1754.0,587.2 1753.0,585.2 1752.0,585.8 1751.0,585.6 1750.0,585.5 1749.0,585.9 1748.0,588.3 1747.0,590.3 1746.0,588.5 1745.0,586.6 1744.0,585.1 1743.0,585.2 1742.0,584.8 1741.0,584.5 1740.0,586.5 1739.0,587.2 1738.0,584.9 1737.0,584.4 1736.0,586.8 1735.0,587.5 1734.0,586.5 1733.0,585.5 1732.0,586.4 1731.0,587.1 1730.0,587.1 1729.0,586.8 1728.0,587.3 1727.0,586.2 1726.0,586.7 1725.0,588.0 1724.0,584.8 1723.0,583.2 1722.0,583.7 1721.0,583.4 1720.0,582.6 1719.0,582.7 1718.0,584.1 1717.0,585.6 1716.0,584.5 1715.0,583.6 1714.0,583.8 1713.0,584.1 1712.0,583.9 1711.0,583.3 1710.0,582.9 1709.0,582.7 1708.0,583.5 1707.0,585.2 1706.0,586.4 1705.0,586.9 1704.0,585.2 1703.0,583.7 1702.0,585.1 1701.0,584.7 1700.0,584.8 1699.0,584.9 1698.0,584.1 1697.0,584.5 1696.0,584.5 1695.0,586.9 1694.0,587.3 1693.0,585.5 1692.0,585.7 1691.0,583.6 1690.0,584.2 1689.0,587.0 1688.0,586.7 1687.0,585.3 1686.0,584.9 1685.0,585.9 1684.0,588.3 1683.0,588.7 1682.0,586.0 1681.0,587.9 1680.0,587.7 1679.0,586.4 1678.0,586.3 1677.0,585.5 1676.0,584.9 1675.0,584.6 1674.0,584.9 1673.0,584.8 1672.0,586.3 1671.0,586.2 1670.0,585.0 1669.0,585.6 1668.0,586.2 1667.0,586.7 1666.0,585.6 1665.0,586.6 1664.0,586.7 1663.0,584.1 1662.0,584.8 1661.0,585.1 1660.0,585.1 1659.0,585.9 1658.0,585.6 1657.0,586.0 1656.0,586.3 1655.0,584.9 1654.0,585.1 1653.0,585.0 1652.0,586.4 1651.0,586.7 1650.0,585.8 1649.0,586.9 1648.0,585.9 1647.0,586.1 1646.0,587.1 1645.0,586.8 1644.0,586.5 1643.0,588.1 1642.0,588.9 1641.0,588.1 1640.0,589.4 1639.0,589.0 1638.0,589.0 1637.0,588.9 1636.0,590.8 1635.0,589.8 1634.0,587.5 1633.0,588.1 1632.0,586.4 1631.0,587.4 1630.0,587.9 1629.0,587.3 1628.0,587.0 1627.0,585.9 1626.0,585.5 1625.0,587.0 1624.0,587.9 1623.0,586.2 1622.0,585.8 1621.0,584.6 1620.0,585.4 1619.0,585.1 1618.0,583.8 1617.0,584.3 1616.0,583.7 1615.0,584.4 1614.0,584.1 1613.0,582.6 1612.0,584.4 1611.0,587.2 1610.0,583.8 1609.0,581.6 1608.0,582.5 1607.0,582.6 1606.0,582.8 1605.0,583.9 1604.0,583.6 1603.0,581.8 1602.0,582.8 1601.0,582.9 1600.0,583.0 1599.0,583.7 1598.0,583.2 1597.0,583.4 1596.0,584.5 1595.0,584.3 1594.0,583.6 1593.0,583.7 1592.0,583.3 1591.0,584.0 1590.0,582.3 1589.0,582.5 1588.0,583.2 1587.0,583.7 1586.0,582.4 1585.0,580.8 1584.0,582.8 1583.0,584.1 1582.0,584.0 1581.0,581.7 1580.0,581.1 1579.0,582.0 1578.0,583.3 1577.0,583.8 1576.0,583.9 1575.0,584.6 1574.0,586.8 1573.0,589.0 1572.0,588.6 1571.0,588.3 1570.0,589.0 1569.0,588.0 1568.0,586.6 1567.0,586.2 1566.0,586.1 1565.0,587.6 1564.0,587.5 1563.0,588.3 1562.0,588.5 1561.0,586.3 1560.0,586.7 1559.0,586.7 1558.0,587.4 1557.0,588.0 1556.0,588.2 1555.0,587.5 1554.0,588.5 1553.0,590.2 1552.0,589.3 1551.0,587.7 1550.0,587.5 1549.0,586.7 1548.0,585.2 1547.0,585.5 1546.0,584.6 1545.0,584.3 1544.0,586.1 1543.0,587.9 1542.0,586.9 1541.0,585.8 1540.0,585.4 1539.0,585.5 1538.0,586.3 1537.0,586.1 1536.0,586.3 1535.0,587.8 1534.0,587.0 1533.0,586.1 1532.0,586.6 1531.0,584.4 1530.0,582.9 1529.0,584.6 1528.0,584.8 1527.0,583.5 1526.0,584.7 1525.0,584.3 1524.0,583.7 1523.0,584.5 1522.0,585.5 1521.0,586.7 1520.0,588.9 1519.0,587.6 1518.0,584.7 1517.0,585.5 1516.0,588.1 1515.0,588.2 1514.0,585.7 1513.0,586.4 1512.0,585.8 1511.0,585.4 1510.0,585.8 1509.0,585.9 1508.0,585.1 1507.0,584.9 1506.0,585.1 1505.0,585.8 1504.0,585.9 1503.0,588.0 1502.0,590.2 1501.0,587.5 1500.0,586.9 1499.0,587.4 1498.0,588.1 1497.0,586.9 1496.0,586.7 1495.0,586.2 1494.0,584.5 1493.0,585.2 1492.0,587.1 1491.0,586.3 1490.0,584.7 1489.0,585.3 1488.0,586.7 1487.0,585.7 1486.0,585.3 1485.0,588.3 1484.0,587.8 1483.0,585.3 1482.0,586.4 1481.0,585.4 1480.0,584.7 1479.0,585.8 1478.0,584.7 1477.0,583.3 1476.0,583.6 1475.0,584.9 1474.0,586.5 1473.0,585.4 1472.0,585.3 1471.0,585.7 1470.0,584.7 1469.0,585.7 1468.0,586.0 1467.0,585.5 1466.0,583.3 1465.0,580.2 1464.0,579.4 1463.0,579.7 1462.0,579.9 1461.0,579.3 1460.0,579.5 1459.0,579.1 1458.0,578.7 1457.0,579.1 1456.0,580.4 1455.0,582.5 1454.0,582.0 1453.0,580.3 1452.0,580.4 1451.0,582.9 1450.0,582.5 1449.0,580.5 1448.0,579.3 1447.0,580.3 1446.0,581.6 1445.0,583.0 1444.0,581.6 1443.0,579.5 1442.0,578.9 1441.0,579.0 1440.0,579.7 1439.0,579.9 1438.0,580.7 1437.0,579.2 1436.0,578.8 1435.0,581.6 1434.0,581.8 1433.0,580.4 1432.0,580.8 1431.0,582.7 1430.0,582.8 1429.0,583.4 1428.0,584.1 1427.0,581.8 1426.0,582.8 1425.0,581.6 1424.0,581.9 1423.0,581.7 1422.0,578.3 1421.0,579.6 1420.0,579.7 1419.0,576.8 1418.0,576.1 1417.0,575.0 1416.0,572.7 1415.0,572.9 1414.0,572.1 1413.0,573.2 1412.0,573.0 1411.0,571.0 1410.0,570.2 1409.0,569.0 1408.0,568.3 1407.0,568.0 1406.0,567.0 1405.0,568.2 1404.0,567.7 1403.0,564.2 1402.0,563.1 1401.0,563.4 1400.0,564.0 1399.0,565.8 1398.0,564.8 1397.0,564.0 1396.0,563.3 1395.0,560.1 1394.0,560.2 1393.0,560.5 1392.0,561.8 1391.0,559.8 1390.0,556.9 1389.0,555.6 1388.0,557.4 1387.0,559.3 1386.0,556.1 1385.0,554.3 1384.0,553.7 1383.0,554.2 1382.0,554.9 1381.0,554.6 1380.0,553.7 1379.0,553.2 1378.0,555.6 1377.0,556.2 1376.0,553.6 1375.0,555.2 1374.0,557.5 1373.0,555.2 1372.0,552.5 1371.0,550.7 1370.0,549.1 1369.0,548.6 1368.0,548.5 1367.0,548.1 1366.0,544.8 1365.0,542.5 1364.0,541.9 1363.0,539.9 1362.0,539.4 1361.0,540.1 1360.0,540.2 1359.0,539.5 1358.0,539.7 1357.0,541.2 1356.0,543.9 1355.0,544.8 1354.0,542.5 1353.0,541.6 1352.0,543.2 1351.0,542.4 1350.0,542.5 1349.0,542.6 1348.0,542.9 1347.0,543.0 1346.0,543.1 1345.0,542.0 1344.0,540.3 1343.0,539.7 1342.0,538.3 1341.0,540.5 1340.0,540.8 1339.0,541.5 1338.0,540.4 1337.0,538.6 1336.0,540.0 1335.0,540.9 1334.0,539.5 1333.0,537.9 1332.0,538.3 1331.0,538.9 1330.0,538.9 1329.0,538.9 1328.0,542.3 1327.0,543.2 1326.0,541.9 1325.0,541.4 1324.0,540.2 1323.0,540.2 1322.0,540.4 1321.0,542.8 1320.0,543.4 1319.0,543.1 1318.0,544.2 1317.0,542.0 1316.0,542.4 1315.0,543.2 1314.0,544.6 1313.0,546.9 1312.0,547.6 1311.0,549.1 1310.0,550.0 1309.0,550.0 1308.0,550.8 1307.0,553.2 1306.0,555.3 1305.0,558.3 1304.0,562.6 1303.0,568.4 1302.0,574.4" fill="#00f"/>

<!-- legend (b) -->
<line x1="1587.7" y1="654.1" x2="1690.6" y2="654.1" stroke="#000" stroke-width="2.9" stroke-dasharray="2.8 3.08"/>
<line x1="1587" y1="741.9" x2="1692.1" y2="741.9" stroke="#f00" stroke-width="3" stroke-linecap="round"/>
<line x1="1584.9" y1="827.2" x2="1682.6" y2="827.2" stroke="#00f" stroke-width="3.1" stroke-linecap="round" stroke-dasharray="10.4 10.2 1.7 9.6 1.7 9.7"/>
<g class="tk">
<text x="1710" y="670.2"><tspan class="it" font-size="51">ε</tspan><tspan dx="0.5">=0.35</tspan></text>
<text x="1707.8" y="757.8"><tspan class="it" font-size="51">ε</tspan><tspan dx="0.5">=0.5</tspan></text>
<text x="1706" y="843.2"><tspan class="it" font-size="51">ε</tspan><tspan dx="0.5">=0.65</tspan></text>
</g>
<!-- y=0 box -->
<rect x="1849.4" y="133.8" width="101.6" height="67.4" fill="#000"/>
<rect x="1837.4" y="121.6" width="101.6" height="67.8" fill="#fff" stroke="#222" stroke-width="1.1"/>
<text class="tk" x="1852.3" y="172.2">y=<tspan class="it">0</tspan></text>
</svg>
</body></html>
